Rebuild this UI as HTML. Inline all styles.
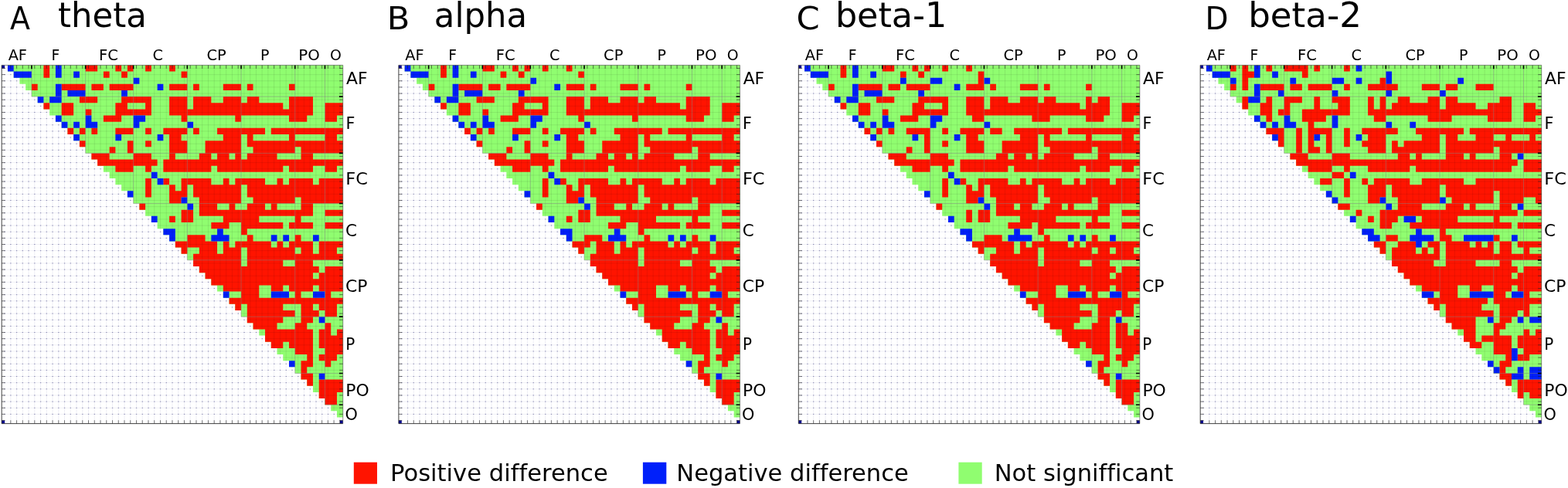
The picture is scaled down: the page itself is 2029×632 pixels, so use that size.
<!DOCTYPE html>
<html lang="en">
<head>
<meta charset="utf-8">
<title>Connectivity difference matrices</title>
<style>
html,body{margin:0;padding:0;background:#fff;}
body{width:2029px;height:632px;overflow:hidden;}
svg{display:block;}
text{font-family:'DejaVu Sans','Liberation Sans',sans-serif;fill:#000;font-variant-ligatures:none;}
.pl{font-size:40.0px;}
.pt{font-size:44.6px;}
.tl{font-size:19.2px;}
.rl{font-size:21.4px;}
.lg{font-size:29.5px;}
.wv,.wh{fill:none;stroke:#5a5a96;stroke-opacity:0.10;stroke-width:0.9;}
.wd{fill:none;stroke:#6a6a9c;stroke-opacity:0.75;stroke-width:1;}
.gv,.gh{fill:none;stroke:#000;stroke-opacity:0.09;stroke-width:0.9;}
.gb{fill:none;stroke:#808080;stroke-opacity:0.55;stroke-width:0.9;}
.tk{fill:none;stroke:#222;stroke-width:0.8;stroke-opacity:0.75;}
.tb{fill:none;stroke:#000;stroke-width:1.6;}
.ax{fill:none;stroke:#2a2a2a;stroke-width:0.9;}
.ax2{fill:none;stroke:#333;stroke-width:0.7;stroke-opacity:0.8;}
</style>
</head>
<body>
<svg width="2029" height="632" viewBox="0 0 2029 632">
<rect x="0" y="0" width="2029" height="632" fill="#ffffff"/>
<g id="panelA">
<path d="M13.82 84.4V548.61M21.57 84.4V548.61M29.31 84.4V548.61M37.06 84.4V548.61M44.8 84.4V548.61M52.55 84.4V548.61M60.3 84.4V548.61M68.04 84.4V548.61M75.79 84.4V548.61M83.53 84.4V548.61M91.28 84.4V548.61M99.03 84.4V548.61M106.77 84.4V548.61M114.52 84.4V548.61M122.26 84.4V548.61M130.01 84.4V548.61M137.75 84.4V548.61M145.5 84.4V548.61M153.25 84.4V548.61M160.99 84.4V548.61M168.74 84.4V548.61M176.48 84.4V548.61M184.23 84.4V548.61M191.98 84.4V548.61M199.72 84.4V548.61M207.47 84.4V548.61M215.22 84.4V548.61M222.96 84.4V548.61M230.71 84.4V548.61M238.45 84.4V548.61M246.2 84.4V548.61M253.94 84.4V548.61M261.69 84.4V548.61M269.44 84.4V548.61M277.18 84.4V548.61M284.93 84.4V548.61M292.68 84.4V548.61M300.42 84.4V548.61M308.17 84.4V548.61M315.91 84.4V548.61M323.66 84.4V548.61M331.41 84.4V548.61M339.15 84.4V548.61M346.9 84.4V548.61M354.64 84.4V548.61M362.39 84.4V548.61M370.13 84.4V548.61M377.88 84.4V548.61M385.63 84.4V548.61M393.37 84.4V548.61M401.12 84.4V548.61M408.87 84.4V548.61M416.61 84.4V548.61M424.36 84.4V548.61M432.1 84.4V548.61M439.85 84.4V548.61" class="wv"/>
<path d="M2.2 88.47H443.72M2.2 96.62H443.72M2.2 104.76H443.72M2.2 112.9H443.72M2.2 121.05H443.72M2.2 129.19H443.72M2.2 137.34H443.72M2.2 145.48H443.72M2.2 153.62H443.72M2.2 161.77H443.72M2.2 169.91H443.72M2.2 178.06H443.72M2.2 186.2H443.72M2.2 194.34H443.72M2.2 202.49H443.72M2.2 210.63H443.72M2.2 218.78H443.72M2.2 226.92H443.72M2.2 235.06H443.72M2.2 243.21H443.72M2.2 251.35H443.72M2.2 259.5H443.72M2.2 267.64H443.72M2.2 275.78H443.72M2.2 283.93H443.72M2.2 292.07H443.72M2.2 300.22H443.72M2.2 308.36H443.72M2.2 316.5H443.72M2.2 324.65H443.72M2.2 332.79H443.72M2.2 340.94H443.72M2.2 349.08H443.72M2.2 357.22H443.72M2.2 365.37H443.72M2.2 373.51H443.72M2.2 381.66H443.72M2.2 389.8H443.72M2.2 397.94H443.72M2.2 406.09H443.72M2.2 414.23H443.72M2.2 422.38H443.72M2.2 430.52H443.72M2.2 438.66H443.72M2.2 446.81H443.72M2.2 454.95H443.72M2.2 463.1H443.72M2.2 471.24H443.72M2.2 479.38H443.72M2.2 487.53H443.72M2.2 495.67H443.72M2.2 503.82H443.72M2.2 511.96H443.72M2.2 520.1H443.72M2.2 528.25H443.72M2.2 536.39H443.72" class="wh"/>
<path d="M2.2 88.47H443.72M2.2 96.62H443.72M2.2 104.76H443.72M2.2 112.9H443.72M2.2 121.05H443.72M2.2 129.19H443.72M2.2 137.34H443.72M2.2 145.48H443.72M2.2 153.62H443.72M2.2 161.77H443.72M2.2 169.91H443.72M2.2 178.06H443.72M2.2 186.2H443.72M2.2 194.34H443.72M2.2 202.49H443.72M2.2 210.63H443.72M2.2 218.78H443.72M2.2 226.92H443.72M2.2 235.06H443.72M2.2 243.21H443.72M2.2 251.35H443.72M2.2 259.5H443.72M2.2 267.64H443.72M2.2 275.78H443.72M2.2 283.93H443.72M2.2 292.07H443.72M2.2 300.22H443.72M2.2 308.36H443.72M2.2 316.5H443.72M2.2 324.65H443.72M2.2 332.79H443.72M2.2 340.94H443.72M2.2 349.08H443.72M2.2 357.22H443.72M2.2 365.37H443.72M2.2 373.51H443.72M2.2 381.66H443.72M2.2 389.8H443.72M2.2 397.94H443.72M2.2 406.09H443.72M2.2 414.23H443.72M2.2 422.38H443.72M2.2 430.52H443.72M2.2 438.66H443.72M2.2 446.81H443.72M2.2 454.95H443.72M2.2 463.1H443.72M2.2 471.24H443.72M2.2 479.38H443.72M2.2 487.53H443.72M2.2 495.67H443.72M2.2 503.82H443.72M2.2 511.96H443.72M2.2 520.1H443.72M2.2 528.25H443.72M2.2 536.39H443.72" class="wd" stroke-dasharray="1.3 6.45" stroke-dashoffset="-10.97"/>
<clipPath id="clipA"><path d="M9.95 84.4H443.72V92.54H9.95ZM17.69 92.54H443.72V100.69H17.69ZM25.44 100.69H443.72V108.83H25.44ZM33.18 108.83H443.72V116.98H33.18ZM40.93 116.98H443.72V125.12H40.93ZM48.68 125.12H443.72V133.26H48.68ZM56.42 133.26H443.72V141.41H56.42ZM64.17 141.41H443.72V149.55H64.17ZM71.91 149.55H443.72V157.7H71.91ZM79.66 157.7H443.72V165.84H79.66ZM87.41 165.84H443.72V173.98H87.41ZM95.15 173.98H443.72V182.13H95.15ZM102.9 182.13H443.72V190.27H102.9ZM110.64 190.27H443.72V198.42H110.64ZM118.39 198.42H443.72V206.56H118.39ZM126.14 206.56H443.72V214.7H126.14ZM133.88 214.7H443.72V222.85H133.88ZM141.63 222.85H443.72V230.99H141.63ZM149.37 230.99H443.72V239.14H149.37ZM157.12 239.14H443.72V247.28H157.12ZM164.87 247.28H443.72V255.42H164.87ZM172.61 255.42H443.72V263.57H172.61ZM180.36 263.57H443.72V271.71H180.36ZM188.1 271.71H443.72V279.86H188.1ZM195.85 279.86H443.72V288H195.85ZM203.6 288H443.72V296.14H203.6ZM211.34 296.14H443.72V304.29H211.34ZM219.09 304.29H443.72V312.43H219.09ZM226.83 312.43H443.72V320.58H226.83ZM234.58 320.58H443.72V328.72H234.58ZM242.33 328.72H443.72V336.86H242.33ZM250.07 336.86H443.72V345.01H250.07ZM257.82 345.01H443.72V353.15H257.82ZM265.56 353.15H443.72V361.3H265.56ZM273.31 361.3H443.72V369.44H273.31ZM281.06 369.44H443.72V377.58H281.06ZM288.8 377.58H443.72V385.73H288.8ZM296.55 385.73H443.72V393.87H296.55ZM304.29 393.87H443.72V402.02H304.29ZM312.04 402.02H443.72V410.16H312.04ZM319.79 410.16H443.72V418.3H319.79ZM327.53 418.3H443.72V426.45H327.53ZM335.28 426.45H443.72V434.59H335.28ZM343.02 434.59H443.72V442.74H343.02ZM350.77 442.74H443.72V450.88H350.77ZM358.52 450.88H443.72V459.02H358.52ZM366.26 459.02H443.72V467.17H366.26ZM374.01 467.17H443.72V475.31H374.01ZM381.75 475.31H443.72V483.46H381.75ZM389.5 483.46H443.72V491.6H389.5ZM397.25 491.6H443.72V499.74H397.25ZM404.99 499.74H443.72V507.89H404.99ZM412.74 507.89H443.72V516.03H412.74ZM420.48 516.03H443.72V524.18H420.48ZM428.23 524.18H443.72V532.32H428.23ZM435.98 532.32H443.72V540.46H435.98Z"/></clipPath>
<path d="M9.95 84.4H443.72V92.54H9.95ZM17.69 92.54H443.72V100.69H17.69ZM25.44 100.69H443.72V108.83H25.44ZM33.18 108.83H443.72V116.98H33.18ZM40.93 116.98H443.72V125.12H40.93ZM48.68 125.12H443.72V133.26H48.68ZM56.42 133.26H443.72V141.41H56.42ZM64.17 141.41H443.72V149.55H64.17ZM71.91 149.55H443.72V157.7H71.91ZM79.66 157.7H443.72V165.84H79.66ZM87.41 165.84H443.72V173.98H87.41ZM95.15 173.98H443.72V182.13H95.15ZM102.9 182.13H443.72V190.27H102.9ZM110.64 190.27H443.72V198.42H110.64ZM118.39 198.42H443.72V206.56H118.39ZM126.14 206.56H443.72V214.7H126.14ZM133.88 214.7H443.72V222.85H133.88ZM141.63 222.85H443.72V230.99H141.63ZM149.37 230.99H443.72V239.14H149.37ZM157.12 239.14H443.72V247.28H157.12ZM164.87 247.28H443.72V255.42H164.87ZM172.61 255.42H443.72V263.57H172.61ZM180.36 263.57H443.72V271.71H180.36ZM188.1 271.71H443.72V279.86H188.1ZM195.85 279.86H443.72V288H195.85ZM203.6 288H443.72V296.14H203.6ZM211.34 296.14H443.72V304.29H211.34ZM219.09 304.29H443.72V312.43H219.09ZM226.83 312.43H443.72V320.58H226.83ZM234.58 320.58H443.72V328.72H234.58ZM242.33 328.72H443.72V336.86H242.33ZM250.07 336.86H443.72V345.01H250.07ZM257.82 345.01H443.72V353.15H257.82ZM265.56 353.15H443.72V361.3H265.56ZM273.31 361.3H443.72V369.44H273.31ZM281.06 369.44H443.72V377.58H281.06ZM288.8 377.58H443.72V385.73H288.8ZM296.55 385.73H443.72V393.87H296.55ZM304.29 393.87H443.72V402.02H304.29ZM312.04 402.02H443.72V410.16H312.04ZM319.79 410.16H443.72V418.3H319.79ZM327.53 418.3H443.72V426.45H327.53ZM335.28 426.45H443.72V434.59H335.28ZM343.02 434.59H443.72V442.74H343.02ZM350.77 442.74H443.72V450.88H350.77ZM358.52 450.88H443.72V459.02H358.52ZM366.26 459.02H443.72V467.17H366.26ZM374.01 467.17H443.72V475.31H374.01ZM381.75 475.31H443.72V483.46H381.75ZM389.5 483.46H443.72V491.6H389.5ZM397.25 491.6H443.72V499.74H397.25ZM404.99 499.74H443.72V507.89H404.99ZM412.74 507.89H443.72V516.03H412.74ZM420.48 516.03H443.72V524.18H420.48ZM428.23 524.18H443.72V532.32H428.23ZM435.98 532.32H443.72V540.46H435.98Z" fill="#90fd70"/>
<path d="M56.42 84.4H64.17V92.54H56.42ZM110.64 84.4H126.14V92.54H110.64ZM149.37 84.4H157.12V92.54H149.37ZM164.87 84.4H172.61V92.54H164.87ZM188.1 84.4H195.85V92.54H188.1ZM219.09 84.4H226.83V92.54H219.09ZM56.42 92.54H64.17V100.69H56.42ZM133.88 92.54H141.63V100.69H133.88ZM157.12 92.54H164.87V100.69H157.12ZM234.58 92.54H242.33V100.69H234.58ZM40.93 108.83H48.68V116.98H40.93ZM79.66 108.83H110.64V116.98H79.66ZM118.39 108.83H133.88V116.98H118.39ZM141.63 108.83H172.61V116.98H141.63ZM219.09 108.83H242.33V116.98H219.09ZM250.07 108.83H257.82V116.98H250.07ZM288.8 108.83H312.04V116.98H288.8ZM319.79 108.83H327.53V116.98H319.79ZM374.01 108.83H381.75V116.98H374.01ZM102.9 125.12H126.14V133.26H102.9ZM157.12 125.12H195.85V133.26H157.12ZM219.09 125.12H242.33V133.26H219.09ZM250.07 125.12H273.31V133.26H250.07ZM288.8 125.12H312.04V133.26H288.8ZM319.79 125.12H335.28V133.26H319.79ZM374.01 125.12H404.99V133.26H374.01ZM56.42 133.26H64.17V141.41H56.42ZM79.66 133.26H95.15V141.41H79.66ZM149.37 133.26H164.87V141.41H149.37ZM188.1 133.26H195.85V141.41H188.1ZM219.09 133.26H242.33V141.41H219.09ZM250.07 133.26H366.26V141.41H250.07ZM374.01 133.26H404.99V141.41H374.01ZM420.48 133.26H443.72V141.41H420.48ZM79.66 141.41H95.15V149.55H79.66ZM110.64 141.41H118.39V149.55H110.64ZM149.37 141.41H195.85V149.55H149.37ZM219.09 141.41H404.99V149.55H219.09ZM420.48 141.41H443.72V149.55H420.48ZM133.88 149.55H157.12V157.7H133.88ZM234.58 149.55H242.33V157.7H234.58ZM304.29 149.55H312.04V157.7H304.29ZM374.01 149.55H397.25V157.7H374.01ZM420.48 149.55H435.98V157.7H420.48ZM87.41 165.84H95.15V173.98H87.41ZM102.9 165.84H110.64V173.98H102.9ZM118.39 165.84H126.14V173.98H118.39ZM149.37 165.84H172.61V173.98H149.37ZM188.1 165.84H195.85V173.98H188.1ZM211.34 165.84H242.33V173.98H211.34ZM250.07 165.84H257.82V173.98H250.07ZM281.06 165.84H343.02V173.98H281.06ZM350.77 165.84H443.72V173.98H350.77ZM219.09 173.98H234.58V182.13H219.09ZM288.8 173.98H312.04V182.13H288.8ZM319.79 173.98H327.53V182.13H319.79ZM374.01 173.98H381.75V182.13H374.01ZM420.48 173.98H435.98V182.13H420.48ZM102.9 182.13H110.64V190.27H102.9ZM164.87 182.13H172.61V190.27H164.87ZM188.1 182.13H195.85V190.27H188.1ZM219.09 182.13H242.33V190.27H219.09ZM265.56 182.13H312.04V190.27H265.56ZM319.79 182.13H443.72V190.27H319.79ZM141.63 190.27H149.37V198.42H141.63ZM164.87 190.27H172.61V198.42H164.87ZM219.09 190.27H242.33V198.42H219.09ZM265.56 190.27H312.04V198.42H265.56ZM327.53 190.27H381.75V198.42H327.53ZM389.5 190.27H443.72V198.42H389.5ZM118.39 198.42H141.63V206.56H118.39ZM172.61 198.42H195.85V206.56H172.61ZM219.09 198.42H226.83V206.56H219.09ZM257.82 198.42H273.31V206.56H257.82ZM281.06 198.42H296.55V206.56H281.06ZM304.29 198.42H312.04V206.56H304.29ZM319.79 198.42H358.52V206.56H319.79ZM389.5 198.42H404.99V206.56H389.5ZM126.14 206.56H203.6V214.7H126.14ZM211.34 206.56H443.72V214.7H211.34ZM149.37 214.7H172.61V222.85H149.37ZM188.1 214.7H195.85V222.85H188.1ZM211.34 214.7H273.31V222.85H211.34ZM281.06 214.7H366.26V222.85H281.06ZM374.01 214.7H404.99V222.85H374.01ZM420.48 214.7H435.98V222.85H420.48ZM188.1 230.99H195.85V239.14H188.1ZM211.34 230.99H219.09V239.14H211.34ZM234.58 230.99H273.31V239.14H234.58ZM288.8 230.99H296.55V239.14H288.8ZM304.29 230.99H343.02V239.14H304.29ZM358.52 230.99H366.26V239.14H358.52ZM374.01 230.99H404.99V239.14H374.01ZM412.74 230.99H443.72V239.14H412.74ZM188.1 239.14H195.85V247.28H188.1ZM219.09 239.14H226.83V247.28H219.09ZM234.58 239.14H242.33V247.28H234.58ZM250.07 239.14H312.04V247.28H250.07ZM319.79 239.14H443.72V247.28H319.79ZM188.1 247.28H195.85V255.42H188.1ZM219.09 247.28H242.33V255.42H219.09ZM250.07 247.28H312.04V255.42H250.07ZM319.79 247.28H443.72V255.42H319.79ZM219.09 255.42H234.58V263.57H219.09ZM257.82 255.42H312.04V263.57H257.82ZM327.53 255.42H381.75V263.57H327.53ZM389.5 255.42H443.72V263.57H389.5ZM180.36 263.57H188.1V271.71H180.36ZM257.82 263.57H281.06V271.71H257.82ZM296.55 263.57H304.29V271.71H296.55ZM319.79 263.57H343.02V271.71H319.79ZM350.77 263.57H358.52V271.71H350.77ZM389.5 263.57H404.99V271.71H389.5ZM234.58 271.71H250.07V279.86H234.58ZM257.82 271.71H404.99V279.86H257.82ZM420.48 271.71H443.72V279.86H420.48ZM219.09 279.86H226.83V288H219.09ZM234.58 279.86H250.07V288H234.58ZM288.8 279.86H335.28V288H288.8ZM381.75 279.86H389.5V288H381.75ZM273.31 288H296.55V296.14H273.31ZM312.04 288H366.26V296.14H312.04ZM374.01 288H404.99V296.14H374.01ZM420.48 288H443.72V296.14H420.48ZM312.04 296.14H319.79V304.29H312.04ZM242.33 304.29H265.56V312.43H242.33ZM319.79 304.29H327.53V312.43H319.79ZM381.75 304.29H389.5V312.43H381.75ZM226.83 312.43H281.06V320.58H226.83ZM288.8 312.43H296.55V320.58H288.8ZM304.29 312.43H350.77V320.58H304.29ZM358.52 312.43H366.26V320.58H358.52ZM374.01 312.43H404.99V320.58H374.01ZM412.74 312.43H443.72V320.58H412.74ZM234.58 320.58H242.33V328.72H234.58ZM257.82 320.58H281.06V328.72H257.82ZM288.8 320.58H312.04V328.72H288.8ZM319.79 320.58H381.75V328.72H319.79ZM389.5 320.58H404.99V328.72H389.5ZM412.74 320.58H435.98V328.72H412.74ZM250.07 328.72H312.04V336.86H250.07ZM319.79 328.72H443.72V336.86H319.79ZM250.07 336.86H312.04V345.01H250.07ZM319.79 336.86H366.26V345.01H319.79ZM381.75 336.86H404.99V345.01H381.75ZM257.82 345.01H412.74V353.15H257.82ZM420.48 345.01H443.72V353.15H420.48ZM265.56 353.15H404.99V361.3H265.56ZM412.74 353.15H443.72V361.3H412.74ZM273.31 361.3H443.72V369.44H273.31ZM288.8 369.44H335.28V377.58H288.8ZM350.77 369.44H366.26V377.58H350.77ZM374.01 369.44H404.99V377.58H374.01ZM412.74 369.44H443.72V377.58H412.74ZM312.04 377.58H335.28V385.73H312.04ZM381.75 377.58H389.5V385.73H381.75ZM420.48 377.58H428.23V385.73H420.48ZM296.55 385.73H443.72V393.87H296.55ZM304.29 393.87H312.04V402.02H304.29ZM319.79 393.87H366.26V402.02H319.79ZM389.5 393.87H404.99V402.02H389.5ZM412.74 393.87H435.98V402.02H412.74ZM319.79 402.02H381.75V410.16H319.79ZM389.5 402.02H412.74V410.16H389.5ZM420.48 402.02H435.98V410.16H420.48ZM319.79 410.16H366.26V418.3H319.79ZM389.5 410.16H404.99V418.3H389.5ZM327.53 418.3H358.52V426.45H327.53ZM381.75 418.3H397.25V426.45H381.75ZM420.48 418.3H428.23V426.45H420.48ZM343.02 426.45H404.99V434.59H343.02ZM412.74 426.45H428.23V434.59H412.74ZM435.98 426.45H443.72V434.59H435.98ZM343.02 434.59H404.99V442.74H343.02ZM412.74 434.59H443.72V442.74H412.74ZM350.77 442.74H366.26V450.88H350.77ZM374.01 442.74H404.99V450.88H374.01ZM412.74 442.74H443.72V450.88H412.74ZM381.75 450.88H404.99V459.02H381.75ZM420.48 450.88H443.72V459.02H420.48ZM397.25 459.02H404.99V467.17H397.25ZM412.74 459.02H435.98V467.17H412.74ZM389.5 467.17H404.99V475.31H389.5ZM420.48 467.17H428.23V475.31H420.48ZM389.5 475.31H397.25V483.46H389.5ZM389.5 483.46H404.99V491.6H389.5ZM397.25 491.6H404.99V499.74H397.25ZM412.74 491.6H443.72V499.74H412.74ZM412.74 499.74H443.72V507.89H412.74ZM412.74 507.89H435.98V516.03H412.74ZM420.48 516.03H435.98V524.18H420.48Z" fill="#ff1400"/>
<path d="M9.95 84.4H17.69V92.54H9.95ZM71.91 84.4H79.66V92.54H71.91ZM17.69 92.54H40.93V100.69H17.69ZM71.91 92.54H79.66V100.69H71.91ZM95.15 92.54H102.9V100.69H95.15ZM172.61 100.69H180.36V108.83H172.61ZM71.91 108.83H79.66V116.98H71.91ZM203.6 108.83H211.34V116.98H203.6ZM71.91 116.98H79.66V125.12H71.91ZM87.41 116.98H110.64V125.12H87.41ZM157.12 116.98H164.87V125.12H157.12ZM48.68 125.12H56.42V133.26H48.68ZM64.17 125.12H79.66V133.26H64.17ZM71.91 149.55H79.66V157.7H71.91ZM110.64 149.55H118.39V157.7H110.64ZM172.61 149.55H188.1V157.7H172.61ZM79.66 157.7H87.41V165.84H79.66ZM95.15 157.7H102.9V165.84H95.15ZM110.64 157.7H126.14V165.84H110.64ZM172.61 157.7H180.36V165.84H172.61ZM242.33 157.7H250.07V165.84H242.33ZM95.15 173.98H102.9V182.13H95.15ZM149.37 173.98H157.12V182.13H149.37ZM203.6 173.98H211.34V182.13H203.6ZM195.85 222.85H203.6V230.99H195.85ZM203.6 230.99H211.34V239.14H203.6ZM164.87 247.28H172.61V255.42H164.87ZM234.58 255.42H242.33V263.57H234.58ZM242.33 263.57H250.07V271.71H242.33ZM195.85 279.86H203.6V288H195.85ZM211.34 296.14H226.83V304.29H211.34ZM281.06 296.14H288.8V304.29H281.06ZM219.09 304.29H226.83V312.43H219.09ZM273.31 304.29H296.55V312.43H273.31ZM350.77 304.29H358.52V312.43H350.77ZM366.26 304.29H374.01V312.43H366.26ZM404.99 304.29H412.74V312.43H404.99ZM288.8 377.58H296.55V385.73H288.8ZM350.77 377.58H374.01V385.73H350.77ZM404.99 377.58H420.48V385.73H404.99ZM412.74 410.16H420.48V418.3H412.74ZM374.01 467.17H381.75V475.31H374.01ZM412.74 483.46H420.48V491.6H412.74Z" fill="#0020fa"/>
<path d="M2.2 84.4h3.87v4.07h-3.87ZM2.2 544.54h3.87v4.07h-3.87ZM439.85 544.54h3.87v4.07h-3.87Z" fill="#00008f"/>
<g clip-path="url(#clipA)"><path d="M13.82 84.4V548.61M21.57 84.4V548.61M29.31 84.4V548.61M37.06 84.4V548.61M44.8 84.4V548.61M52.55 84.4V548.61M60.3 84.4V548.61M68.04 84.4V548.61M75.79 84.4V548.61M83.53 84.4V548.61M91.28 84.4V548.61M99.03 84.4V548.61M106.77 84.4V548.61M114.52 84.4V548.61M122.26 84.4V548.61M130.01 84.4V548.61M137.75 84.4V548.61M145.5 84.4V548.61M153.25 84.4V548.61M160.99 84.4V548.61M168.74 84.4V548.61M176.48 84.4V548.61M184.23 84.4V548.61M191.98 84.4V548.61M199.72 84.4V548.61M207.47 84.4V548.61M215.22 84.4V548.61M222.96 84.4V548.61M230.71 84.4V548.61M238.45 84.4V548.61M246.2 84.4V548.61M253.94 84.4V548.61M261.69 84.4V548.61M269.44 84.4V548.61M277.18 84.4V548.61M284.93 84.4V548.61M292.68 84.4V548.61M300.42 84.4V548.61M308.17 84.4V548.61M315.91 84.4V548.61M323.66 84.4V548.61M331.41 84.4V548.61M339.15 84.4V548.61M346.9 84.4V548.61M354.64 84.4V548.61M362.39 84.4V548.61M370.13 84.4V548.61M377.88 84.4V548.61M385.63 84.4V548.61M393.37 84.4V548.61M401.12 84.4V548.61M408.87 84.4V548.61M416.61 84.4V548.61M424.36 84.4V548.61M432.1 84.4V548.61M439.85 84.4V548.61" class="gv"/><path d="M2.2 88.47H443.72M2.2 96.62H443.72M2.2 104.76H443.72M2.2 112.9H443.72M2.2 121.05H443.72M2.2 129.19H443.72M2.2 137.34H443.72M2.2 145.48H443.72M2.2 153.62H443.72M2.2 161.77H443.72M2.2 169.91H443.72M2.2 178.06H443.72M2.2 186.2H443.72M2.2 194.34H443.72M2.2 202.49H443.72M2.2 210.63H443.72M2.2 218.78H443.72M2.2 226.92H443.72M2.2 235.06H443.72M2.2 243.21H443.72M2.2 251.35H443.72M2.2 259.5H443.72M2.2 267.64H443.72M2.2 275.78H443.72M2.2 283.93H443.72M2.2 292.07H443.72M2.2 300.22H443.72M2.2 308.36H443.72M2.2 316.5H443.72M2.2 324.65H443.72M2.2 332.79H443.72M2.2 340.94H443.72M2.2 349.08H443.72M2.2 357.22H443.72M2.2 365.37H443.72M2.2 373.51H443.72M2.2 381.66H443.72M2.2 389.8H443.72M2.2 397.94H443.72M2.2 406.09H443.72M2.2 414.23H443.72M2.2 422.38H443.72M2.2 430.52H443.72M2.2 438.66H443.72M2.2 446.81H443.72M2.2 454.95H443.72M2.2 463.1H443.72M2.2 471.24H443.72M2.2 479.38H443.72M2.2 487.53H443.72M2.2 495.67H443.72M2.2 503.82H443.72M2.2 511.96H443.72M2.2 520.1H443.72M2.2 528.25H443.72M2.2 536.39H443.72" class="gh"/></g>
<path d="M40.93 84.4V125.12H443.72M110.64 84.4V198.42H443.72M172.61 84.4V263.57H443.72M242.33 84.4V336.86H443.72M312.04 84.4V410.16H443.72M381.75 84.4V483.46H443.72M420.48 84.4V524.18H443.72" class="gb"/>
<path d="M13.82 84.4v4.4M13.82 548.61v-4.4M21.57 84.4v4.4M21.57 548.61v-4.4M29.31 84.4v4.4M29.31 548.61v-4.4M37.06 84.4v4.4M37.06 548.61v-4.4M44.8 84.4v4.4M44.8 548.61v-4.4M52.55 84.4v4.4M52.55 548.61v-4.4M60.3 84.4v4.4M60.3 548.61v-4.4M68.04 84.4v4.4M68.04 548.61v-4.4M75.79 84.4v4.4M75.79 548.61v-4.4M83.53 84.4v4.4M83.53 548.61v-4.4M91.28 84.4v4.4M91.28 548.61v-4.4M99.03 84.4v4.4M99.03 548.61v-4.4M106.77 84.4v4.4M106.77 548.61v-4.4M114.52 84.4v4.4M114.52 548.61v-4.4M122.26 84.4v4.4M122.26 548.61v-4.4M130.01 84.4v4.4M130.01 548.61v-4.4M137.75 84.4v4.4M137.75 548.61v-4.4M145.5 84.4v4.4M145.5 548.61v-4.4M153.25 84.4v4.4M153.25 548.61v-4.4M160.99 84.4v4.4M160.99 548.61v-4.4M168.74 84.4v4.4M168.74 548.61v-4.4M176.48 84.4v4.4M176.48 548.61v-4.4M184.23 84.4v4.4M184.23 548.61v-4.4M191.98 84.4v4.4M191.98 548.61v-4.4M199.72 84.4v4.4M199.72 548.61v-4.4M207.47 84.4v4.4M207.47 548.61v-4.4M215.22 84.4v4.4M215.22 548.61v-4.4M222.96 84.4v4.4M222.96 548.61v-4.4M230.71 84.4v4.4M230.71 548.61v-4.4M238.45 84.4v4.4M238.45 548.61v-4.4M246.2 84.4v4.4M246.2 548.61v-4.4M253.94 84.4v4.4M253.94 548.61v-4.4M261.69 84.4v4.4M261.69 548.61v-4.4M269.44 84.4v4.4M269.44 548.61v-4.4M277.18 84.4v4.4M277.18 548.61v-4.4M284.93 84.4v4.4M284.93 548.61v-4.4M292.68 84.4v4.4M292.68 548.61v-4.4M300.42 84.4v4.4M300.42 548.61v-4.4M308.17 84.4v4.4M308.17 548.61v-4.4M315.91 84.4v4.4M315.91 548.61v-4.4M323.66 84.4v4.4M323.66 548.61v-4.4M331.41 84.4v4.4M331.41 548.61v-4.4M339.15 84.4v4.4M339.15 548.61v-4.4M346.9 84.4v4.4M346.9 548.61v-4.4M354.64 84.4v4.4M354.64 548.61v-4.4M362.39 84.4v4.4M362.39 548.61v-4.4M370.13 84.4v4.4M370.13 548.61v-4.4M377.88 84.4v4.4M377.88 548.61v-4.4M385.63 84.4v4.4M385.63 548.61v-4.4M393.37 84.4v4.4M393.37 548.61v-4.4M401.12 84.4v4.4M401.12 548.61v-4.4M408.87 84.4v4.4M408.87 548.61v-4.4M416.61 84.4v4.4M416.61 548.61v-4.4M424.36 84.4v4.4M424.36 548.61v-4.4M432.1 84.4v4.4M432.1 548.61v-4.4M439.85 84.4v4.4M439.85 548.61v-4.4M2.2 88.47h4.4M443.72 88.47h-4.4M2.2 96.62h4.4M443.72 96.62h-4.4M2.2 104.76h4.4M443.72 104.76h-4.4M2.2 112.9h4.4M443.72 112.9h-4.4M2.2 121.05h4.4M443.72 121.05h-4.4M2.2 129.19h4.4M443.72 129.19h-4.4M2.2 137.34h4.4M443.72 137.34h-4.4M2.2 145.48h4.4M443.72 145.48h-4.4M2.2 153.62h4.4M443.72 153.62h-4.4M2.2 161.77h4.4M443.72 161.77h-4.4M2.2 169.91h4.4M443.72 169.91h-4.4M2.2 178.06h4.4M443.72 178.06h-4.4M2.2 186.2h4.4M443.72 186.2h-4.4M2.2 194.34h4.4M443.72 194.34h-4.4M2.2 202.49h4.4M443.72 202.49h-4.4M2.2 210.63h4.4M443.72 210.63h-4.4M2.2 218.78h4.4M443.72 218.78h-4.4M2.2 226.92h4.4M443.72 226.92h-4.4M2.2 235.06h4.4M443.72 235.06h-4.4M2.2 243.21h4.4M443.72 243.21h-4.4M2.2 251.35h4.4M443.72 251.35h-4.4M2.2 259.5h4.4M443.72 259.5h-4.4M2.2 267.64h4.4M443.72 267.64h-4.4M2.2 275.78h4.4M443.72 275.78h-4.4M2.2 283.93h4.4M443.72 283.93h-4.4M2.2 292.07h4.4M443.72 292.07h-4.4M2.2 300.22h4.4M443.72 300.22h-4.4M2.2 308.36h4.4M443.72 308.36h-4.4M2.2 316.5h4.4M443.72 316.5h-4.4M2.2 324.65h4.4M443.72 324.65h-4.4M2.2 332.79h4.4M443.72 332.79h-4.4M2.2 340.94h4.4M443.72 340.94h-4.4M2.2 349.08h4.4M443.72 349.08h-4.4M2.2 357.22h4.4M443.72 357.22h-4.4M2.2 365.37h4.4M443.72 365.37h-4.4M2.2 373.51h4.4M443.72 373.51h-4.4M2.2 381.66h4.4M443.72 381.66h-4.4M2.2 389.8h4.4M443.72 389.8h-4.4M2.2 397.94h4.4M443.72 397.94h-4.4M2.2 406.09h4.4M443.72 406.09h-4.4M2.2 414.23h4.4M443.72 414.23h-4.4M2.2 422.38h4.4M443.72 422.38h-4.4M2.2 430.52h4.4M443.72 430.52h-4.4M2.2 438.66h4.4M443.72 438.66h-4.4M2.2 446.81h4.4M443.72 446.81h-4.4M2.2 454.95h4.4M443.72 454.95h-4.4M2.2 463.1h4.4M443.72 463.1h-4.4M2.2 471.24h4.4M443.72 471.24h-4.4M2.2 479.38h4.4M443.72 479.38h-4.4M2.2 487.53h4.4M443.72 487.53h-4.4M2.2 495.67h4.4M443.72 495.67h-4.4M2.2 503.82h4.4M443.72 503.82h-4.4M2.2 511.96h4.4M443.72 511.96h-4.4M2.2 520.1h4.4M443.72 520.1h-4.4M2.2 528.25h4.4M443.72 528.25h-4.4M2.2 536.39h4.4M443.72 536.39h-4.4M2.2 544.54h4.4M443.72 544.54h-4.4" class="tk"/>
<path d="M40.93 84.4v4.8M443.72 125.12h-4.8M110.64 84.4v4.8M443.72 198.42h-4.8M172.61 84.4v4.8M443.72 263.57h-4.8M242.33 84.4v4.8M443.72 336.86h-4.8M312.04 84.4v4.8M443.72 410.16h-4.8M381.75 84.4v4.8M443.72 483.46h-4.8M420.48 84.4v4.8M443.72 524.18h-4.8" class="tb"/>
<path d="M2.2 84.4V548.61H443.72" class="ax"/>
<path d="M2.2 84.4H443.72V548.61" class="ax2"/>
<text class="pl" transform="translate(12.96 37.7) scale(0.9495 1)">A</text>
<text class="pt" transform="translate(74.98 35) scale(0.9738 1)">theta</text>
<text class="tl" transform="translate(10.65 77.5) scale(1.0066 1)">AF</text>
<text class="tl" transform="translate(66.55 77.5) scale(0.9750 1)">F</text>
<text class="tl" transform="translate(127.96 77.5) scale(1.0186 1)">FC</text>
<text class="tl" transform="translate(197.4 77.5) scale(1.0044 1)">C</text>
<text class="tl" transform="translate(267.39 77.5) scale(1.0108 1)">CP</text>
<text class="tl" transform="translate(336.92 77.5) scale(0.9889 1)">P</text>
<text class="tl" transform="translate(386.34 77.5) scale(1.0298 1)">PO</text>
<text class="tl" transform="translate(427.02 77.5) scale(0.9846 1)">O</text>
<text class="rl" transform="translate(447.97 109.2) scale(1.0196 1)">AF</text>
<text class="rl" transform="translate(447.39 167.1) scale(0.9667 1)">F</text>
<text class="rl" transform="translate(447.22 238.8) scale(1.0500 1)">FC</text>
<text class="rl" transform="translate(446.97 306.2) scale(1.0000 1)">C</text>
<text class="rl" transform="translate(446.95 377.9) scale(1.0214 1)">CP</text>
<text class="rl" transform="translate(447.25 452.6) scale(0.9300 1)">P</text>
<text class="rl" transform="translate(447.28 513.3) scale(1.0226 1)">PO</text>
<text class="rl" transform="translate(446.41 544) scale(0.9724 1)">O</text>
</g>
<g id="panelB">
<path d="M527.52 84.4V548.61M535.26 84.4V548.61M543.01 84.4V548.61M550.76 84.4V548.61M558.5 84.4V548.61M566.25 84.4V548.61M574 84.4V548.61M581.74 84.4V548.61M589.49 84.4V548.61M597.23 84.4V548.61M604.98 84.4V548.61M612.73 84.4V548.61M620.47 84.4V548.61M628.22 84.4V548.61M635.96 84.4V548.61M643.71 84.4V548.61M651.45 84.4V548.61M659.2 84.4V548.61M666.95 84.4V548.61M674.69 84.4V548.61M682.44 84.4V548.61M690.18 84.4V548.61M697.93 84.4V548.61M705.68 84.4V548.61M713.42 84.4V548.61M721.17 84.4V548.61M728.91 84.4V548.61M736.66 84.4V548.61M744.41 84.4V548.61M752.15 84.4V548.61M759.9 84.4V548.61M767.64 84.4V548.61M775.39 84.4V548.61M783.14 84.4V548.61M790.88 84.4V548.61M798.63 84.4V548.61M806.38 84.4V548.61M814.12 84.4V548.61M821.87 84.4V548.61M829.61 84.4V548.61M837.36 84.4V548.61M845.11 84.4V548.61M852.85 84.4V548.61M860.6 84.4V548.61M868.34 84.4V548.61M876.09 84.4V548.61M883.84 84.4V548.61M891.58 84.4V548.61M899.33 84.4V548.61M907.07 84.4V548.61M914.82 84.4V548.61M922.57 84.4V548.61M930.31 84.4V548.61M938.06 84.4V548.61M945.8 84.4V548.61M953.55 84.4V548.61" class="wv"/>
<path d="M515.9 88.47H957.42M515.9 96.62H957.42M515.9 104.76H957.42M515.9 112.9H957.42M515.9 121.05H957.42M515.9 129.19H957.42M515.9 137.34H957.42M515.9 145.48H957.42M515.9 153.62H957.42M515.9 161.77H957.42M515.9 169.91H957.42M515.9 178.06H957.42M515.9 186.2H957.42M515.9 194.34H957.42M515.9 202.49H957.42M515.9 210.63H957.42M515.9 218.78H957.42M515.9 226.92H957.42M515.9 235.06H957.42M515.9 243.21H957.42M515.9 251.35H957.42M515.9 259.5H957.42M515.9 267.64H957.42M515.9 275.78H957.42M515.9 283.93H957.42M515.9 292.07H957.42M515.9 300.22H957.42M515.9 308.36H957.42M515.9 316.5H957.42M515.9 324.65H957.42M515.9 332.79H957.42M515.9 340.94H957.42M515.9 349.08H957.42M515.9 357.22H957.42M515.9 365.37H957.42M515.9 373.51H957.42M515.9 381.66H957.42M515.9 389.8H957.42M515.9 397.94H957.42M515.9 406.09H957.42M515.9 414.23H957.42M515.9 422.38H957.42M515.9 430.52H957.42M515.9 438.66H957.42M515.9 446.81H957.42M515.9 454.95H957.42M515.9 463.1H957.42M515.9 471.24H957.42M515.9 479.38H957.42M515.9 487.53H957.42M515.9 495.67H957.42M515.9 503.82H957.42M515.9 511.96H957.42M515.9 520.1H957.42M515.9 528.25H957.42M515.9 536.39H957.42" class="wh"/>
<path d="M515.9 88.47H957.42M515.9 96.62H957.42M515.9 104.76H957.42M515.9 112.9H957.42M515.9 121.05H957.42M515.9 129.19H957.42M515.9 137.34H957.42M515.9 145.48H957.42M515.9 153.62H957.42M515.9 161.77H957.42M515.9 169.91H957.42M515.9 178.06H957.42M515.9 186.2H957.42M515.9 194.34H957.42M515.9 202.49H957.42M515.9 210.63H957.42M515.9 218.78H957.42M515.9 226.92H957.42M515.9 235.06H957.42M515.9 243.21H957.42M515.9 251.35H957.42M515.9 259.5H957.42M515.9 267.64H957.42M515.9 275.78H957.42M515.9 283.93H957.42M515.9 292.07H957.42M515.9 300.22H957.42M515.9 308.36H957.42M515.9 316.5H957.42M515.9 324.65H957.42M515.9 332.79H957.42M515.9 340.94H957.42M515.9 349.08H957.42M515.9 357.22H957.42M515.9 365.37H957.42M515.9 373.51H957.42M515.9 381.66H957.42M515.9 389.8H957.42M515.9 397.94H957.42M515.9 406.09H957.42M515.9 414.23H957.42M515.9 422.38H957.42M515.9 430.52H957.42M515.9 438.66H957.42M515.9 446.81H957.42M515.9 454.95H957.42M515.9 463.1H957.42M515.9 471.24H957.42M515.9 479.38H957.42M515.9 487.53H957.42M515.9 495.67H957.42M515.9 503.82H957.42M515.9 511.96H957.42M515.9 520.1H957.42M515.9 528.25H957.42M515.9 536.39H957.42" class="wd" stroke-dasharray="1.3 6.45" stroke-dashoffset="-10.97"/>
<clipPath id="clipB"><path d="M523.65 84.4H957.42V92.54H523.65ZM531.39 92.54H957.42V100.69H531.39ZM539.14 100.69H957.42V108.83H539.14ZM546.88 108.83H957.42V116.98H546.88ZM554.63 116.98H957.42V125.12H554.63ZM562.38 125.12H957.42V133.26H562.38ZM570.12 133.26H957.42V141.41H570.12ZM577.87 141.41H957.42V149.55H577.87ZM585.61 149.55H957.42V157.7H585.61ZM593.36 157.7H957.42V165.84H593.36ZM601.11 165.84H957.42V173.98H601.11ZM608.85 173.98H957.42V182.13H608.85ZM616.6 182.13H957.42V190.27H616.6ZM624.34 190.27H957.42V198.42H624.34ZM632.09 198.42H957.42V206.56H632.09ZM639.84 206.56H957.42V214.7H639.84ZM647.58 214.7H957.42V222.85H647.58ZM655.33 222.85H957.42V230.99H655.33ZM663.07 230.99H957.42V239.14H663.07ZM670.82 239.14H957.42V247.28H670.82ZM678.57 247.28H957.42V255.42H678.57ZM686.31 255.42H957.42V263.57H686.31ZM694.06 263.57H957.42V271.71H694.06ZM701.8 271.71H957.42V279.86H701.8ZM709.55 279.86H957.42V288H709.55ZM717.3 288H957.42V296.14H717.3ZM725.04 296.14H957.42V304.29H725.04ZM732.79 304.29H957.42V312.43H732.79ZM740.53 312.43H957.42V320.58H740.53ZM748.28 320.58H957.42V328.72H748.28ZM756.03 328.72H957.42V336.86H756.03ZM763.77 336.86H957.42V345.01H763.77ZM771.52 345.01H957.42V353.15H771.52ZM779.26 353.15H957.42V361.3H779.26ZM787.01 361.3H957.42V369.44H787.01ZM794.76 369.44H957.42V377.58H794.76ZM802.5 377.58H957.42V385.73H802.5ZM810.25 385.73H957.42V393.87H810.25ZM817.99 393.87H957.42V402.02H817.99ZM825.74 402.02H957.42V410.16H825.74ZM833.49 410.16H957.42V418.3H833.49ZM841.23 418.3H957.42V426.45H841.23ZM848.98 426.45H957.42V434.59H848.98ZM856.72 434.59H957.42V442.74H856.72ZM864.47 442.74H957.42V450.88H864.47ZM872.22 450.88H957.42V459.02H872.22ZM879.96 459.02H957.42V467.17H879.96ZM887.71 467.17H957.42V475.31H887.71ZM895.45 475.31H957.42V483.46H895.45ZM903.2 483.46H957.42V491.6H903.2ZM910.95 491.6H957.42V499.74H910.95ZM918.69 499.74H957.42V507.89H918.69ZM926.44 507.89H957.42V516.03H926.44ZM934.18 516.03H957.42V524.18H934.18ZM941.93 524.18H957.42V532.32H941.93ZM949.68 532.32H957.42V540.46H949.68Z"/></clipPath>
<path d="M523.65 84.4H957.42V92.54H523.65ZM531.39 92.54H957.42V100.69H531.39ZM539.14 100.69H957.42V108.83H539.14ZM546.88 108.83H957.42V116.98H546.88ZM554.63 116.98H957.42V125.12H554.63ZM562.38 125.12H957.42V133.26H562.38ZM570.12 133.26H957.42V141.41H570.12ZM577.87 141.41H957.42V149.55H577.87ZM585.61 149.55H957.42V157.7H585.61ZM593.36 157.7H957.42V165.84H593.36ZM601.11 165.84H957.42V173.98H601.11ZM608.85 173.98H957.42V182.13H608.85ZM616.6 182.13H957.42V190.27H616.6ZM624.34 190.27H957.42V198.42H624.34ZM632.09 198.42H957.42V206.56H632.09ZM639.84 206.56H957.42V214.7H639.84ZM647.58 214.7H957.42V222.85H647.58ZM655.33 222.85H957.42V230.99H655.33ZM663.07 230.99H957.42V239.14H663.07ZM670.82 239.14H957.42V247.28H670.82ZM678.57 247.28H957.42V255.42H678.57ZM686.31 255.42H957.42V263.57H686.31ZM694.06 263.57H957.42V271.71H694.06ZM701.8 271.71H957.42V279.86H701.8ZM709.55 279.86H957.42V288H709.55ZM717.3 288H957.42V296.14H717.3ZM725.04 296.14H957.42V304.29H725.04ZM732.79 304.29H957.42V312.43H732.79ZM740.53 312.43H957.42V320.58H740.53ZM748.28 320.58H957.42V328.72H748.28ZM756.03 328.72H957.42V336.86H756.03ZM763.77 336.86H957.42V345.01H763.77ZM771.52 345.01H957.42V353.15H771.52ZM779.26 353.15H957.42V361.3H779.26ZM787.01 361.3H957.42V369.44H787.01ZM794.76 369.44H957.42V377.58H794.76ZM802.5 377.58H957.42V385.73H802.5ZM810.25 385.73H957.42V393.87H810.25ZM817.99 393.87H957.42V402.02H817.99ZM825.74 402.02H957.42V410.16H825.74ZM833.49 410.16H957.42V418.3H833.49ZM841.23 418.3H957.42V426.45H841.23ZM848.98 426.45H957.42V434.59H848.98ZM856.72 434.59H957.42V442.74H856.72ZM864.47 442.74H957.42V450.88H864.47ZM872.22 450.88H957.42V459.02H872.22ZM879.96 459.02H957.42V467.17H879.96ZM887.71 467.17H957.42V475.31H887.71ZM895.45 475.31H957.42V483.46H895.45ZM903.2 483.46H957.42V491.6H903.2ZM910.95 491.6H957.42V499.74H910.95ZM918.69 499.74H957.42V507.89H918.69ZM926.44 507.89H957.42V516.03H926.44ZM934.18 516.03H957.42V524.18H934.18ZM941.93 524.18H957.42V532.32H941.93ZM949.68 532.32H957.42V540.46H949.68Z" fill="#90fd70"/>
<path d="M570.12 84.4H577.87V92.54H570.12ZM624.34 84.4H639.84V92.54H624.34ZM663.07 84.4H670.82V92.54H663.07ZM678.57 84.4H686.31V92.54H678.57ZM701.8 84.4H709.55V92.54H701.8ZM732.79 84.4H740.53V92.54H732.79ZM570.12 92.54H577.87V100.69H570.12ZM647.58 92.54H655.33V100.69H647.58ZM670.82 92.54H678.57V100.69H670.82ZM748.28 92.54H756.03V100.69H748.28ZM554.63 108.83H562.38V116.98H554.63ZM593.36 108.83H624.34V116.98H593.36ZM632.09 108.83H647.58V116.98H632.09ZM655.33 108.83H686.31V116.98H655.33ZM732.79 108.83H756.03V116.98H732.79ZM763.77 108.83H771.52V116.98H763.77ZM802.5 108.83H825.74V116.98H802.5ZM833.49 108.83H841.23V116.98H833.49ZM887.71 108.83H895.45V116.98H887.71ZM616.6 125.12H639.84V133.26H616.6ZM670.82 125.12H709.55V133.26H670.82ZM732.79 125.12H756.03V133.26H732.79ZM763.77 125.12H787.01V133.26H763.77ZM802.5 125.12H825.74V133.26H802.5ZM833.49 125.12H848.98V133.26H833.49ZM887.71 125.12H918.69V133.26H887.71ZM570.12 133.26H577.87V141.41H570.12ZM593.36 133.26H608.85V141.41H593.36ZM663.07 133.26H678.57V141.41H663.07ZM701.8 133.26H709.55V141.41H701.8ZM732.79 133.26H756.03V141.41H732.79ZM763.77 133.26H879.96V141.41H763.77ZM887.71 133.26H918.69V141.41H887.71ZM934.18 133.26H957.42V141.41H934.18ZM593.36 141.41H608.85V149.55H593.36ZM624.34 141.41H632.09V149.55H624.34ZM663.07 141.41H709.55V149.55H663.07ZM732.79 141.41H918.69V149.55H732.79ZM934.18 141.41H957.42V149.55H934.18ZM647.58 149.55H670.82V157.7H647.58ZM748.28 149.55H756.03V157.7H748.28ZM817.99 149.55H825.74V157.7H817.99ZM887.71 149.55H910.95V157.7H887.71ZM934.18 149.55H949.68V157.7H934.18ZM601.11 165.84H608.85V173.98H601.11ZM616.6 165.84H624.34V173.98H616.6ZM632.09 165.84H639.84V173.98H632.09ZM663.07 165.84H686.31V173.98H663.07ZM701.8 165.84H709.55V173.98H701.8ZM725.04 165.84H756.03V173.98H725.04ZM763.77 165.84H771.52V173.98H763.77ZM794.76 165.84H856.72V173.98H794.76ZM864.47 165.84H957.42V173.98H864.47ZM732.79 173.98H748.28V182.13H732.79ZM802.5 173.98H825.74V182.13H802.5ZM833.49 173.98H841.23V182.13H833.49ZM887.71 173.98H895.45V182.13H887.71ZM934.18 173.98H949.68V182.13H934.18ZM616.6 182.13H624.34V190.27H616.6ZM678.57 182.13H686.31V190.27H678.57ZM701.8 182.13H709.55V190.27H701.8ZM732.79 182.13H756.03V190.27H732.79ZM779.26 182.13H825.74V190.27H779.26ZM833.49 182.13H957.42V190.27H833.49ZM655.33 190.27H663.07V198.42H655.33ZM678.57 190.27H686.31V198.42H678.57ZM732.79 190.27H756.03V198.42H732.79ZM779.26 190.27H825.74V198.42H779.26ZM841.23 190.27H895.45V198.42H841.23ZM903.2 190.27H957.42V198.42H903.2ZM632.09 198.42H655.33V206.56H632.09ZM686.31 198.42H709.55V206.56H686.31ZM732.79 198.42H740.53V206.56H732.79ZM771.52 198.42H787.01V206.56H771.52ZM794.76 198.42H810.25V206.56H794.76ZM817.99 198.42H825.74V206.56H817.99ZM833.49 198.42H872.22V206.56H833.49ZM903.2 198.42H918.69V206.56H903.2ZM639.84 206.56H717.3V214.7H639.84ZM725.04 206.56H957.42V214.7H725.04ZM663.07 214.7H686.31V222.85H663.07ZM701.8 214.7H709.55V222.85H701.8ZM725.04 214.7H787.01V222.85H725.04ZM794.76 214.7H879.96V222.85H794.76ZM887.71 214.7H918.69V222.85H887.71ZM934.18 214.7H949.68V222.85H934.18ZM701.8 230.99H709.55V239.14H701.8ZM725.04 230.99H732.79V239.14H725.04ZM748.28 230.99H787.01V239.14H748.28ZM802.5 230.99H810.25V239.14H802.5ZM817.99 230.99H856.72V239.14H817.99ZM872.22 230.99H879.96V239.14H872.22ZM887.71 230.99H918.69V239.14H887.71ZM926.44 230.99H957.42V239.14H926.44ZM701.8 239.14H709.55V247.28H701.8ZM732.79 239.14H740.53V247.28H732.79ZM748.28 239.14H756.03V247.28H748.28ZM763.77 239.14H825.74V247.28H763.77ZM833.49 239.14H957.42V247.28H833.49ZM701.8 247.28H709.55V255.42H701.8ZM732.79 247.28H756.03V255.42H732.79ZM763.77 247.28H825.74V255.42H763.77ZM833.49 247.28H957.42V255.42H833.49ZM732.79 255.42H748.28V263.57H732.79ZM771.52 255.42H825.74V263.57H771.52ZM841.23 255.42H895.45V263.57H841.23ZM903.2 255.42H957.42V263.57H903.2ZM694.06 263.57H701.8V271.71H694.06ZM771.52 263.57H794.76V271.71H771.52ZM810.25 263.57H817.99V271.71H810.25ZM833.49 263.57H856.72V271.71H833.49ZM864.47 263.57H872.22V271.71H864.47ZM903.2 263.57H918.69V271.71H903.2ZM748.28 271.71H763.77V279.86H748.28ZM771.52 271.71H918.69V279.86H771.52ZM934.18 271.71H957.42V279.86H934.18ZM732.79 279.86H740.53V288H732.79ZM748.28 279.86H763.77V288H748.28ZM802.5 279.86H848.98V288H802.5ZM895.45 279.86H903.2V288H895.45ZM787.01 288H810.25V296.14H787.01ZM825.74 288H879.96V296.14H825.74ZM887.71 288H918.69V296.14H887.71ZM934.18 288H957.42V296.14H934.18ZM825.74 296.14H833.49V304.29H825.74ZM756.03 304.29H779.26V312.43H756.03ZM833.49 304.29H841.23V312.43H833.49ZM895.45 304.29H903.2V312.43H895.45ZM740.53 312.43H763.77V320.58H740.53ZM771.52 312.43H794.76V320.58H771.52ZM802.5 312.43H810.25V320.58H802.5ZM817.99 312.43H864.47V320.58H817.99ZM872.22 312.43H879.96V320.58H872.22ZM887.71 312.43H918.69V320.58H887.71ZM926.44 312.43H957.42V320.58H926.44ZM748.28 320.58H756.03V328.72H748.28ZM771.52 320.58H794.76V328.72H771.52ZM802.5 320.58H825.74V328.72H802.5ZM833.49 320.58H895.45V328.72H833.49ZM903.2 320.58H918.69V328.72H903.2ZM926.44 320.58H949.68V328.72H926.44ZM763.77 328.72H825.74V336.86H763.77ZM833.49 328.72H957.42V336.86H833.49ZM763.77 336.86H825.74V345.01H763.77ZM833.49 336.86H879.96V345.01H833.49ZM895.45 336.86H918.69V345.01H895.45ZM771.52 345.01H926.44V353.15H771.52ZM934.18 345.01H957.42V353.15H934.18ZM779.26 353.15H918.69V361.3H779.26ZM926.44 353.15H957.42V361.3H926.44ZM787.01 361.3H957.42V369.44H787.01ZM802.5 369.44H848.98V377.58H802.5ZM864.47 369.44H879.96V377.58H864.47ZM887.71 369.44H918.69V377.58H887.71ZM926.44 369.44H957.42V377.58H926.44ZM825.74 377.58H848.98V385.73H825.74ZM895.45 377.58H903.2V385.73H895.45ZM934.18 377.58H941.93V385.73H934.18ZM810.25 385.73H957.42V393.87H810.25ZM817.99 393.87H825.74V402.02H817.99ZM833.49 393.87H879.96V402.02H833.49ZM903.2 393.87H918.69V402.02H903.2ZM926.44 393.87H949.68V402.02H926.44ZM833.49 402.02H895.45V410.16H833.49ZM903.2 402.02H926.44V410.16H903.2ZM934.18 402.02H949.68V410.16H934.18ZM833.49 410.16H879.96V418.3H833.49ZM903.2 410.16H918.69V418.3H903.2ZM841.23 418.3H872.22V426.45H841.23ZM895.45 418.3H910.95V426.45H895.45ZM934.18 418.3H941.93V426.45H934.18ZM856.72 426.45H918.69V434.59H856.72ZM926.44 426.45H941.93V434.59H926.44ZM949.68 426.45H957.42V434.59H949.68ZM856.72 434.59H918.69V442.74H856.72ZM926.44 434.59H957.42V442.74H926.44ZM864.47 442.74H879.96V450.88H864.47ZM887.71 442.74H918.69V450.88H887.71ZM926.44 442.74H957.42V450.88H926.44ZM895.45 450.88H918.69V459.02H895.45ZM934.18 450.88H957.42V459.02H934.18ZM910.95 459.02H918.69V467.17H910.95ZM926.44 459.02H949.68V467.17H926.44ZM903.2 467.17H918.69V475.31H903.2ZM934.18 467.17H941.93V475.31H934.18ZM903.2 475.31H910.95V483.46H903.2ZM903.2 483.46H918.69V491.6H903.2ZM910.95 491.6H918.69V499.74H910.95ZM926.44 491.6H957.42V499.74H926.44ZM926.44 499.74H957.42V507.89H926.44ZM926.44 507.89H949.68V516.03H926.44ZM934.18 516.03H949.68V524.18H934.18Z" fill="#ff1400"/>
<path d="M523.65 84.4H531.39V92.54H523.65ZM585.61 84.4H593.36V92.54H585.61ZM531.39 92.54H554.63V100.69H531.39ZM585.61 92.54H593.36V100.69H585.61ZM608.85 92.54H616.6V100.69H608.85ZM686.31 100.69H694.06V108.83H686.31ZM585.61 108.83H593.36V116.98H585.61ZM717.3 108.83H725.04V116.98H717.3ZM585.61 116.98H593.36V125.12H585.61ZM601.11 116.98H624.34V125.12H601.11ZM670.82 116.98H678.57V125.12H670.82ZM562.38 125.12H570.12V133.26H562.38ZM577.87 125.12H593.36V133.26H577.87ZM585.61 149.55H593.36V157.7H585.61ZM624.34 149.55H632.09V157.7H624.34ZM686.31 149.55H701.8V157.7H686.31ZM593.36 157.7H601.11V165.84H593.36ZM608.85 157.7H616.6V165.84H608.85ZM624.34 157.7H639.84V165.84H624.34ZM686.31 157.7H694.06V165.84H686.31ZM756.03 157.7H763.77V165.84H756.03ZM608.85 173.98H616.6V182.13H608.85ZM663.07 173.98H670.82V182.13H663.07ZM717.3 173.98H725.04V182.13H717.3ZM709.55 222.85H717.3V230.99H709.55ZM717.3 230.99H725.04V239.14H717.3ZM678.57 247.28H686.31V255.42H678.57ZM748.28 255.42H756.03V263.57H748.28ZM756.03 263.57H763.77V271.71H756.03ZM709.55 279.86H717.3V288H709.55ZM725.04 296.14H740.53V304.29H725.04ZM794.76 296.14H802.5V304.29H794.76ZM732.79 304.29H740.53V312.43H732.79ZM787.01 304.29H810.25V312.43H787.01ZM864.47 304.29H872.22V312.43H864.47ZM879.96 304.29H887.71V312.43H879.96ZM918.69 304.29H926.44V312.43H918.69ZM802.5 377.58H810.25V385.73H802.5ZM864.47 377.58H887.71V385.73H864.47ZM918.69 377.58H934.18V385.73H918.69ZM926.44 410.16H934.18V418.3H926.44ZM887.71 467.17H895.45V475.31H887.71ZM926.44 483.46H934.18V491.6H926.44Z" fill="#0020fa"/>
<path d="M515.9 84.4h3.87v4.07h-3.87ZM515.9 544.54h3.87v4.07h-3.87ZM953.55 544.54h3.87v4.07h-3.87Z" fill="#00008f"/>
<g clip-path="url(#clipB)"><path d="M527.52 84.4V548.61M535.26 84.4V548.61M543.01 84.4V548.61M550.76 84.4V548.61M558.5 84.4V548.61M566.25 84.4V548.61M574 84.4V548.61M581.74 84.4V548.61M589.49 84.4V548.61M597.23 84.4V548.61M604.98 84.4V548.61M612.73 84.4V548.61M620.47 84.4V548.61M628.22 84.4V548.61M635.96 84.4V548.61M643.71 84.4V548.61M651.45 84.4V548.61M659.2 84.4V548.61M666.95 84.4V548.61M674.69 84.4V548.61M682.44 84.4V548.61M690.18 84.4V548.61M697.93 84.4V548.61M705.68 84.4V548.61M713.42 84.4V548.61M721.17 84.4V548.61M728.91 84.4V548.61M736.66 84.4V548.61M744.41 84.4V548.61M752.15 84.4V548.61M759.9 84.4V548.61M767.64 84.4V548.61M775.39 84.4V548.61M783.14 84.4V548.61M790.88 84.4V548.61M798.63 84.4V548.61M806.38 84.4V548.61M814.12 84.4V548.61M821.87 84.4V548.61M829.61 84.4V548.61M837.36 84.4V548.61M845.11 84.4V548.61M852.85 84.4V548.61M860.6 84.4V548.61M868.34 84.4V548.61M876.09 84.4V548.61M883.84 84.4V548.61M891.58 84.4V548.61M899.33 84.4V548.61M907.07 84.4V548.61M914.82 84.4V548.61M922.57 84.4V548.61M930.31 84.4V548.61M938.06 84.4V548.61M945.8 84.4V548.61M953.55 84.4V548.61" class="gv"/><path d="M515.9 88.47H957.42M515.9 96.62H957.42M515.9 104.76H957.42M515.9 112.9H957.42M515.9 121.05H957.42M515.9 129.19H957.42M515.9 137.34H957.42M515.9 145.48H957.42M515.9 153.62H957.42M515.9 161.77H957.42M515.9 169.91H957.42M515.9 178.06H957.42M515.9 186.2H957.42M515.9 194.34H957.42M515.9 202.49H957.42M515.9 210.63H957.42M515.9 218.78H957.42M515.9 226.92H957.42M515.9 235.06H957.42M515.9 243.21H957.42M515.9 251.35H957.42M515.9 259.5H957.42M515.9 267.64H957.42M515.9 275.78H957.42M515.9 283.93H957.42M515.9 292.07H957.42M515.9 300.22H957.42M515.9 308.36H957.42M515.9 316.5H957.42M515.9 324.65H957.42M515.9 332.79H957.42M515.9 340.94H957.42M515.9 349.08H957.42M515.9 357.22H957.42M515.9 365.37H957.42M515.9 373.51H957.42M515.9 381.66H957.42M515.9 389.8H957.42M515.9 397.94H957.42M515.9 406.09H957.42M515.9 414.23H957.42M515.9 422.38H957.42M515.9 430.52H957.42M515.9 438.66H957.42M515.9 446.81H957.42M515.9 454.95H957.42M515.9 463.1H957.42M515.9 471.24H957.42M515.9 479.38H957.42M515.9 487.53H957.42M515.9 495.67H957.42M515.9 503.82H957.42M515.9 511.96H957.42M515.9 520.1H957.42M515.9 528.25H957.42M515.9 536.39H957.42" class="gh"/></g>
<path d="M554.63 84.4V125.12H957.42M624.34 84.4V198.42H957.42M686.31 84.4V263.57H957.42M756.03 84.4V336.86H957.42M825.74 84.4V410.16H957.42M895.45 84.4V483.46H957.42M934.18 84.4V524.18H957.42" class="gb"/>
<path d="M527.52 84.4v4.4M527.52 548.61v-4.4M535.26 84.4v4.4M535.26 548.61v-4.4M543.01 84.4v4.4M543.01 548.61v-4.4M550.76 84.4v4.4M550.76 548.61v-4.4M558.5 84.4v4.4M558.5 548.61v-4.4M566.25 84.4v4.4M566.25 548.61v-4.4M574 84.4v4.4M574 548.61v-4.4M581.74 84.4v4.4M581.74 548.61v-4.4M589.49 84.4v4.4M589.49 548.61v-4.4M597.23 84.4v4.4M597.23 548.61v-4.4M604.98 84.4v4.4M604.98 548.61v-4.4M612.73 84.4v4.4M612.73 548.61v-4.4M620.47 84.4v4.4M620.47 548.61v-4.4M628.22 84.4v4.4M628.22 548.61v-4.4M635.96 84.4v4.4M635.96 548.61v-4.4M643.71 84.4v4.4M643.71 548.61v-4.4M651.45 84.4v4.4M651.45 548.61v-4.4M659.2 84.4v4.4M659.2 548.61v-4.4M666.95 84.4v4.4M666.95 548.61v-4.4M674.69 84.4v4.4M674.69 548.61v-4.4M682.44 84.4v4.4M682.44 548.61v-4.4M690.18 84.4v4.4M690.18 548.61v-4.4M697.93 84.4v4.4M697.93 548.61v-4.4M705.68 84.4v4.4M705.68 548.61v-4.4M713.42 84.4v4.4M713.42 548.61v-4.4M721.17 84.4v4.4M721.17 548.61v-4.4M728.91 84.4v4.4M728.91 548.61v-4.4M736.66 84.4v4.4M736.66 548.61v-4.4M744.41 84.4v4.4M744.41 548.61v-4.4M752.15 84.4v4.4M752.15 548.61v-4.4M759.9 84.4v4.4M759.9 548.61v-4.4M767.64 84.4v4.4M767.64 548.61v-4.4M775.39 84.4v4.4M775.39 548.61v-4.4M783.14 84.4v4.4M783.14 548.61v-4.4M790.88 84.4v4.4M790.88 548.61v-4.4M798.63 84.4v4.4M798.63 548.61v-4.4M806.38 84.4v4.4M806.38 548.61v-4.4M814.12 84.4v4.4M814.12 548.61v-4.4M821.87 84.4v4.4M821.87 548.61v-4.4M829.61 84.4v4.4M829.61 548.61v-4.4M837.36 84.4v4.4M837.36 548.61v-4.4M845.11 84.4v4.4M845.11 548.61v-4.4M852.85 84.4v4.4M852.85 548.61v-4.4M860.6 84.4v4.4M860.6 548.61v-4.4M868.34 84.4v4.4M868.34 548.61v-4.4M876.09 84.4v4.4M876.09 548.61v-4.4M883.84 84.4v4.4M883.84 548.61v-4.4M891.58 84.4v4.4M891.58 548.61v-4.4M899.33 84.4v4.4M899.33 548.61v-4.4M907.07 84.4v4.4M907.07 548.61v-4.4M914.82 84.4v4.4M914.82 548.61v-4.4M922.57 84.4v4.4M922.57 548.61v-4.4M930.31 84.4v4.4M930.31 548.61v-4.4M938.06 84.4v4.4M938.06 548.61v-4.4M945.8 84.4v4.4M945.8 548.61v-4.4M953.55 84.4v4.4M953.55 548.61v-4.4M515.9 88.47h4.4M957.42 88.47h-4.4M515.9 96.62h4.4M957.42 96.62h-4.4M515.9 104.76h4.4M957.42 104.76h-4.4M515.9 112.9h4.4M957.42 112.9h-4.4M515.9 121.05h4.4M957.42 121.05h-4.4M515.9 129.19h4.4M957.42 129.19h-4.4M515.9 137.34h4.4M957.42 137.34h-4.4M515.9 145.48h4.4M957.42 145.48h-4.4M515.9 153.62h4.4M957.42 153.62h-4.4M515.9 161.77h4.4M957.42 161.77h-4.4M515.9 169.91h4.4M957.42 169.91h-4.4M515.9 178.06h4.4M957.42 178.06h-4.4M515.9 186.2h4.4M957.42 186.2h-4.4M515.9 194.34h4.4M957.42 194.34h-4.4M515.9 202.49h4.4M957.42 202.49h-4.4M515.9 210.63h4.4M957.42 210.63h-4.4M515.9 218.78h4.4M957.42 218.78h-4.4M515.9 226.92h4.4M957.42 226.92h-4.4M515.9 235.06h4.4M957.42 235.06h-4.4M515.9 243.21h4.4M957.42 243.21h-4.4M515.9 251.35h4.4M957.42 251.35h-4.4M515.9 259.5h4.4M957.42 259.5h-4.4M515.9 267.64h4.4M957.42 267.64h-4.4M515.9 275.78h4.4M957.42 275.78h-4.4M515.9 283.93h4.4M957.42 283.93h-4.4M515.9 292.07h4.4M957.42 292.07h-4.4M515.9 300.22h4.4M957.42 300.22h-4.4M515.9 308.36h4.4M957.42 308.36h-4.4M515.9 316.5h4.4M957.42 316.5h-4.4M515.9 324.65h4.4M957.42 324.65h-4.4M515.9 332.79h4.4M957.42 332.79h-4.4M515.9 340.94h4.4M957.42 340.94h-4.4M515.9 349.08h4.4M957.42 349.08h-4.4M515.9 357.22h4.4M957.42 357.22h-4.4M515.9 365.37h4.4M957.42 365.37h-4.4M515.9 373.51h4.4M957.42 373.51h-4.4M515.9 381.66h4.4M957.42 381.66h-4.4M515.9 389.8h4.4M957.42 389.8h-4.4M515.9 397.94h4.4M957.42 397.94h-4.4M515.9 406.09h4.4M957.42 406.09h-4.4M515.9 414.23h4.4M957.42 414.23h-4.4M515.9 422.38h4.4M957.42 422.38h-4.4M515.9 430.52h4.4M957.42 430.52h-4.4M515.9 438.66h4.4M957.42 438.66h-4.4M515.9 446.81h4.4M957.42 446.81h-4.4M515.9 454.95h4.4M957.42 454.95h-4.4M515.9 463.1h4.4M957.42 463.1h-4.4M515.9 471.24h4.4M957.42 471.24h-4.4M515.9 479.38h4.4M957.42 479.38h-4.4M515.9 487.53h4.4M957.42 487.53h-4.4M515.9 495.67h4.4M957.42 495.67h-4.4M515.9 503.82h4.4M957.42 503.82h-4.4M515.9 511.96h4.4M957.42 511.96h-4.4M515.9 520.1h4.4M957.42 520.1h-4.4M515.9 528.25h4.4M957.42 528.25h-4.4M515.9 536.39h4.4M957.42 536.39h-4.4M515.9 544.54h4.4M957.42 544.54h-4.4" class="tk"/>
<path d="M554.63 84.4v4.8M957.42 125.12h-4.8M624.34 84.4v4.8M957.42 198.42h-4.8M686.31 84.4v4.8M957.42 263.57h-4.8M756.03 84.4v4.8M957.42 336.86h-4.8M825.74 84.4v4.8M957.42 410.16h-4.8M895.45 84.4v4.8M957.42 483.46h-4.8M934.18 84.4v4.8M957.42 524.18h-4.8" class="tb"/>
<path d="M515.9 84.4V548.61H957.42" class="ax"/>
<path d="M515.9 84.4H957.42V548.61" class="ax2"/>
<text class="pl" transform="translate(500.83 37.7) scale(1.0800 1)">B</text>
<text class="pt" transform="translate(561.83 35) scale(0.9722 1)">alpha</text>
<text class="tl" transform="translate(524.35 77.5) scale(1.0066 1)">AF</text>
<text class="tl" transform="translate(580.25 77.5) scale(0.9750 1)">F</text>
<text class="tl" transform="translate(641.66 77.5) scale(1.0186 1)">FC</text>
<text class="tl" transform="translate(711.1 77.5) scale(1.0044 1)">C</text>
<text class="tl" transform="translate(781.09 77.5) scale(1.0108 1)">CP</text>
<text class="tl" transform="translate(850.62 77.5) scale(0.9889 1)">P</text>
<text class="tl" transform="translate(900.04 77.5) scale(1.0298 1)">PO</text>
<text class="tl" transform="translate(940.72 77.5) scale(0.9846 1)">O</text>
<text class="rl" transform="translate(961.67 109.2) scale(1.0196 1)">AF</text>
<text class="rl" transform="translate(961.09 167.1) scale(0.9667 1)">F</text>
<text class="rl" transform="translate(960.92 238.8) scale(1.0500 1)">FC</text>
<text class="rl" transform="translate(960.67 306.2) scale(1.0000 1)">C</text>
<text class="rl" transform="translate(960.65 377.9) scale(1.0214 1)">CP</text>
<text class="rl" transform="translate(960.95 452.6) scale(0.9300 1)">P</text>
<text class="rl" transform="translate(960.98 513.3) scale(1.0226 1)">PO</text>
<text class="rl" transform="translate(960.11 544) scale(0.9724 1)">O</text>
</g>
<g id="panelC">
<path d="M1044.92 84.4V548.61M1052.66 84.4V548.61M1060.41 84.4V548.61M1068.16 84.4V548.61M1075.9 84.4V548.61M1083.65 84.4V548.61M1091.39 84.4V548.61M1099.14 84.4V548.61M1106.89 84.4V548.61M1114.63 84.4V548.61M1122.38 84.4V548.61M1130.12 84.4V548.61M1137.87 84.4V548.61M1145.62 84.4V548.61M1153.36 84.4V548.61M1161.11 84.4V548.61M1168.86 84.4V548.61M1176.6 84.4V548.61M1184.35 84.4V548.61M1192.09 84.4V548.61M1199.84 84.4V548.61M1207.59 84.4V548.61M1215.33 84.4V548.61M1223.08 84.4V548.61M1230.82 84.4V548.61M1238.57 84.4V548.61M1246.32 84.4V548.61M1254.06 84.4V548.61M1261.81 84.4V548.61M1269.55 84.4V548.61M1277.3 84.4V548.61M1285.05 84.4V548.61M1292.79 84.4V548.61M1300.54 84.4V548.61M1308.28 84.4V548.61M1316.03 84.4V548.61M1323.78 84.4V548.61M1331.52 84.4V548.61M1339.27 84.4V548.61M1347.01 84.4V548.61M1354.76 84.4V548.61M1362.51 84.4V548.61M1370.25 84.4V548.61M1378 84.4V548.61M1385.74 84.4V548.61M1393.49 84.4V548.61M1401.23 84.4V548.61M1408.98 84.4V548.61M1416.73 84.4V548.61M1424.47 84.4V548.61M1432.22 84.4V548.61M1439.96 84.4V548.61M1447.71 84.4V548.61M1455.46 84.4V548.61M1463.2 84.4V548.61M1470.95 84.4V548.61" class="wv"/>
<path d="M1033.3 88.47H1474.82M1033.3 96.62H1474.82M1033.3 104.76H1474.82M1033.3 112.9H1474.82M1033.3 121.05H1474.82M1033.3 129.19H1474.82M1033.3 137.34H1474.82M1033.3 145.48H1474.82M1033.3 153.62H1474.82M1033.3 161.77H1474.82M1033.3 169.91H1474.82M1033.3 178.06H1474.82M1033.3 186.2H1474.82M1033.3 194.34H1474.82M1033.3 202.49H1474.82M1033.3 210.63H1474.82M1033.3 218.78H1474.82M1033.3 226.92H1474.82M1033.3 235.06H1474.82M1033.3 243.21H1474.82M1033.3 251.35H1474.82M1033.3 259.5H1474.82M1033.3 267.64H1474.82M1033.3 275.78H1474.82M1033.3 283.93H1474.82M1033.3 292.07H1474.82M1033.3 300.22H1474.82M1033.3 308.36H1474.82M1033.3 316.5H1474.82M1033.3 324.65H1474.82M1033.3 332.79H1474.82M1033.3 340.94H1474.82M1033.3 349.08H1474.82M1033.3 357.22H1474.82M1033.3 365.37H1474.82M1033.3 373.51H1474.82M1033.3 381.66H1474.82M1033.3 389.8H1474.82M1033.3 397.94H1474.82M1033.3 406.09H1474.82M1033.3 414.23H1474.82M1033.3 422.38H1474.82M1033.3 430.52H1474.82M1033.3 438.66H1474.82M1033.3 446.81H1474.82M1033.3 454.95H1474.82M1033.3 463.1H1474.82M1033.3 471.24H1474.82M1033.3 479.38H1474.82M1033.3 487.53H1474.82M1033.3 495.67H1474.82M1033.3 503.82H1474.82M1033.3 511.96H1474.82M1033.3 520.1H1474.82M1033.3 528.25H1474.82M1033.3 536.39H1474.82" class="wh"/>
<path d="M1033.3 88.47H1474.82M1033.3 96.62H1474.82M1033.3 104.76H1474.82M1033.3 112.9H1474.82M1033.3 121.05H1474.82M1033.3 129.19H1474.82M1033.3 137.34H1474.82M1033.3 145.48H1474.82M1033.3 153.62H1474.82M1033.3 161.77H1474.82M1033.3 169.91H1474.82M1033.3 178.06H1474.82M1033.3 186.2H1474.82M1033.3 194.34H1474.82M1033.3 202.49H1474.82M1033.3 210.63H1474.82M1033.3 218.78H1474.82M1033.3 226.92H1474.82M1033.3 235.06H1474.82M1033.3 243.21H1474.82M1033.3 251.35H1474.82M1033.3 259.5H1474.82M1033.3 267.64H1474.82M1033.3 275.78H1474.82M1033.3 283.93H1474.82M1033.3 292.07H1474.82M1033.3 300.22H1474.82M1033.3 308.36H1474.82M1033.3 316.5H1474.82M1033.3 324.65H1474.82M1033.3 332.79H1474.82M1033.3 340.94H1474.82M1033.3 349.08H1474.82M1033.3 357.22H1474.82M1033.3 365.37H1474.82M1033.3 373.51H1474.82M1033.3 381.66H1474.82M1033.3 389.8H1474.82M1033.3 397.94H1474.82M1033.3 406.09H1474.82M1033.3 414.23H1474.82M1033.3 422.38H1474.82M1033.3 430.52H1474.82M1033.3 438.66H1474.82M1033.3 446.81H1474.82M1033.3 454.95H1474.82M1033.3 463.1H1474.82M1033.3 471.24H1474.82M1033.3 479.38H1474.82M1033.3 487.53H1474.82M1033.3 495.67H1474.82M1033.3 503.82H1474.82M1033.3 511.96H1474.82M1033.3 520.1H1474.82M1033.3 528.25H1474.82M1033.3 536.39H1474.82" class="wd" stroke-dasharray="1.3 6.45" stroke-dashoffset="-10.97"/>
<clipPath id="clipC"><path d="M1041.05 84.4H1474.82V92.54H1041.05ZM1048.79 92.54H1474.82V100.69H1048.79ZM1056.54 100.69H1474.82V108.83H1056.54ZM1064.28 108.83H1474.82V116.98H1064.28ZM1072.03 116.98H1474.82V125.12H1072.03ZM1079.78 125.12H1474.82V133.26H1079.78ZM1087.52 133.26H1474.82V141.41H1087.52ZM1095.27 141.41H1474.82V149.55H1095.27ZM1103.01 149.55H1474.82V157.7H1103.01ZM1110.76 157.7H1474.82V165.84H1110.76ZM1118.51 165.84H1474.82V173.98H1118.51ZM1126.25 173.98H1474.82V182.13H1126.25ZM1134 182.13H1474.82V190.27H1134ZM1141.74 190.27H1474.82V198.42H1141.74ZM1149.49 198.42H1474.82V206.56H1149.49ZM1157.24 206.56H1474.82V214.7H1157.24ZM1164.98 214.7H1474.82V222.85H1164.98ZM1172.73 222.85H1474.82V230.99H1172.73ZM1180.47 230.99H1474.82V239.14H1180.47ZM1188.22 239.14H1474.82V247.28H1188.22ZM1195.97 247.28H1474.82V255.42H1195.97ZM1203.71 255.42H1474.82V263.57H1203.71ZM1211.46 263.57H1474.82V271.71H1211.46ZM1219.2 271.71H1474.82V279.86H1219.2ZM1226.95 279.86H1474.82V288H1226.95ZM1234.7 288H1474.82V296.14H1234.7ZM1242.44 296.14H1474.82V304.29H1242.44ZM1250.19 304.29H1474.82V312.43H1250.19ZM1257.93 312.43H1474.82V320.58H1257.93ZM1265.68 320.58H1474.82V328.72H1265.68ZM1273.43 328.72H1474.82V336.86H1273.43ZM1281.17 336.86H1474.82V345.01H1281.17ZM1288.92 345.01H1474.82V353.15H1288.92ZM1296.66 353.15H1474.82V361.3H1296.66ZM1304.41 361.3H1474.82V369.44H1304.41ZM1312.16 369.44H1474.82V377.58H1312.16ZM1319.9 377.58H1474.82V385.73H1319.9ZM1327.65 385.73H1474.82V393.87H1327.65ZM1335.39 393.87H1474.82V402.02H1335.39ZM1343.14 402.02H1474.82V410.16H1343.14ZM1350.89 410.16H1474.82V418.3H1350.89ZM1358.63 418.3H1474.82V426.45H1358.63ZM1366.38 426.45H1474.82V434.59H1366.38ZM1374.12 434.59H1474.82V442.74H1374.12ZM1381.87 442.74H1474.82V450.88H1381.87ZM1389.62 450.88H1474.82V459.02H1389.62ZM1397.36 459.02H1474.82V467.17H1397.36ZM1405.11 467.17H1474.82V475.31H1405.11ZM1412.85 475.31H1474.82V483.46H1412.85ZM1420.6 483.46H1474.82V491.6H1420.6ZM1428.35 491.6H1474.82V499.74H1428.35ZM1436.09 499.74H1474.82V507.89H1436.09ZM1443.84 507.89H1474.82V516.03H1443.84ZM1451.58 516.03H1474.82V524.18H1451.58ZM1459.33 524.18H1474.82V532.32H1459.33ZM1467.08 532.32H1474.82V540.46H1467.08Z"/></clipPath>
<path d="M1041.05 84.4H1474.82V92.54H1041.05ZM1048.79 92.54H1474.82V100.69H1048.79ZM1056.54 100.69H1474.82V108.83H1056.54ZM1064.28 108.83H1474.82V116.98H1064.28ZM1072.03 116.98H1474.82V125.12H1072.03ZM1079.78 125.12H1474.82V133.26H1079.78ZM1087.52 133.26H1474.82V141.41H1087.52ZM1095.27 141.41H1474.82V149.55H1095.27ZM1103.01 149.55H1474.82V157.7H1103.01ZM1110.76 157.7H1474.82V165.84H1110.76ZM1118.51 165.84H1474.82V173.98H1118.51ZM1126.25 173.98H1474.82V182.13H1126.25ZM1134 182.13H1474.82V190.27H1134ZM1141.74 190.27H1474.82V198.42H1141.74ZM1149.49 198.42H1474.82V206.56H1149.49ZM1157.24 206.56H1474.82V214.7H1157.24ZM1164.98 214.7H1474.82V222.85H1164.98ZM1172.73 222.85H1474.82V230.99H1172.73ZM1180.47 230.99H1474.82V239.14H1180.47ZM1188.22 239.14H1474.82V247.28H1188.22ZM1195.97 247.28H1474.82V255.42H1195.97ZM1203.71 255.42H1474.82V263.57H1203.71ZM1211.46 263.57H1474.82V271.71H1211.46ZM1219.2 271.71H1474.82V279.86H1219.2ZM1226.95 279.86H1474.82V288H1226.95ZM1234.7 288H1474.82V296.14H1234.7ZM1242.44 296.14H1474.82V304.29H1242.44ZM1250.19 304.29H1474.82V312.43H1250.19ZM1257.93 312.43H1474.82V320.58H1257.93ZM1265.68 320.58H1474.82V328.72H1265.68ZM1273.43 328.72H1474.82V336.86H1273.43ZM1281.17 336.86H1474.82V345.01H1281.17ZM1288.92 345.01H1474.82V353.15H1288.92ZM1296.66 353.15H1474.82V361.3H1296.66ZM1304.41 361.3H1474.82V369.44H1304.41ZM1312.16 369.44H1474.82V377.58H1312.16ZM1319.9 377.58H1474.82V385.73H1319.9ZM1327.65 385.73H1474.82V393.87H1327.65ZM1335.39 393.87H1474.82V402.02H1335.39ZM1343.14 402.02H1474.82V410.16H1343.14ZM1350.89 410.16H1474.82V418.3H1350.89ZM1358.63 418.3H1474.82V426.45H1358.63ZM1366.38 426.45H1474.82V434.59H1366.38ZM1374.12 434.59H1474.82V442.74H1374.12ZM1381.87 442.74H1474.82V450.88H1381.87ZM1389.62 450.88H1474.82V459.02H1389.62ZM1397.36 459.02H1474.82V467.17H1397.36ZM1405.11 467.17H1474.82V475.31H1405.11ZM1412.85 475.31H1474.82V483.46H1412.85ZM1420.6 483.46H1474.82V491.6H1420.6ZM1428.35 491.6H1474.82V499.74H1428.35ZM1436.09 499.74H1474.82V507.89H1436.09ZM1443.84 507.89H1474.82V516.03H1443.84ZM1451.58 516.03H1474.82V524.18H1451.58ZM1459.33 524.18H1474.82V532.32H1459.33ZM1467.08 532.32H1474.82V540.46H1467.08Z" fill="#90fd70"/>
<path d="M1087.52 84.4H1095.27V92.54H1087.52ZM1141.74 84.4H1157.24V92.54H1141.74ZM1180.47 84.4H1188.22V92.54H1180.47ZM1195.97 84.4H1203.71V92.54H1195.97ZM1219.2 84.4H1226.95V92.54H1219.2ZM1250.19 84.4H1257.93V92.54H1250.19ZM1087.52 92.54H1095.27V100.69H1087.52ZM1164.98 92.54H1172.73V100.69H1164.98ZM1188.22 92.54H1195.97V100.69H1188.22ZM1265.68 92.54H1273.43V100.69H1265.68ZM1265.68 100.69H1273.43V108.83H1265.68ZM1072.03 108.83H1079.78V116.98H1072.03ZM1110.76 108.83H1141.74V116.98H1110.76ZM1149.49 108.83H1164.98V116.98H1149.49ZM1172.73 108.83H1203.71V116.98H1172.73ZM1250.19 108.83H1273.43V116.98H1250.19ZM1281.17 108.83H1288.92V116.98H1281.17ZM1319.9 108.83H1343.14V116.98H1319.9ZM1350.89 108.83H1358.63V116.98H1350.89ZM1405.11 108.83H1412.85V116.98H1405.11ZM1134 125.12H1157.24V133.26H1134ZM1188.22 125.12H1226.95V133.26H1188.22ZM1250.19 125.12H1273.43V133.26H1250.19ZM1281.17 125.12H1304.41V133.26H1281.17ZM1319.9 125.12H1343.14V133.26H1319.9ZM1350.89 125.12H1366.38V133.26H1350.89ZM1405.11 125.12H1412.85V133.26H1405.11ZM1420.6 125.12H1436.09V133.26H1420.6ZM1087.52 133.26H1095.27V141.41H1087.52ZM1110.76 133.26H1126.25V141.41H1110.76ZM1180.47 133.26H1195.97V141.41H1180.47ZM1219.2 133.26H1226.95V141.41H1219.2ZM1250.19 133.26H1273.43V141.41H1250.19ZM1281.17 133.26H1397.36V141.41H1281.17ZM1405.11 133.26H1436.09V141.41H1405.11ZM1451.58 133.26H1474.82V141.41H1451.58ZM1110.76 141.41H1126.25V149.55H1110.76ZM1141.74 141.41H1149.49V149.55H1141.74ZM1180.47 141.41H1226.95V149.55H1180.47ZM1250.19 141.41H1436.09V149.55H1250.19ZM1451.58 141.41H1474.82V149.55H1451.58ZM1164.98 149.55H1188.22V157.7H1164.98ZM1257.93 149.55H1273.43V157.7H1257.93ZM1335.39 149.55H1358.63V157.7H1335.39ZM1405.11 149.55H1428.35V157.7H1405.11ZM1451.58 149.55H1467.08V157.7H1451.58ZM1118.51 165.84H1126.25V173.98H1118.51ZM1134 165.84H1141.74V173.98H1134ZM1149.49 165.84H1157.24V173.98H1149.49ZM1172.73 165.84H1203.71V173.98H1172.73ZM1219.2 165.84H1226.95V173.98H1219.2ZM1242.44 165.84H1273.43V173.98H1242.44ZM1281.17 165.84H1296.66V173.98H1281.17ZM1312.16 165.84H1374.12V173.98H1312.16ZM1381.87 165.84H1474.82V173.98H1381.87ZM1195.97 173.98H1203.71V182.13H1195.97ZM1250.19 173.98H1265.68V182.13H1250.19ZM1319.9 173.98H1343.14V182.13H1319.9ZM1350.89 173.98H1358.63V182.13H1350.89ZM1405.11 173.98H1412.85V182.13H1405.11ZM1451.58 173.98H1467.08V182.13H1451.58ZM1134 182.13H1141.74V190.27H1134ZM1195.97 182.13H1203.71V190.27H1195.97ZM1219.2 182.13H1226.95V190.27H1219.2ZM1250.19 182.13H1273.43V190.27H1250.19ZM1296.66 182.13H1343.14V190.27H1296.66ZM1350.89 182.13H1474.82V190.27H1350.89ZM1172.73 190.27H1180.47V198.42H1172.73ZM1195.97 190.27H1203.71V198.42H1195.97ZM1250.19 190.27H1273.43V198.42H1250.19ZM1296.66 190.27H1343.14V198.42H1296.66ZM1358.63 190.27H1412.85V198.42H1358.63ZM1420.6 190.27H1474.82V198.42H1420.6ZM1149.49 198.42H1172.73V206.56H1149.49ZM1203.71 198.42H1226.95V206.56H1203.71ZM1288.92 198.42H1304.41V206.56H1288.92ZM1312.16 198.42H1327.65V206.56H1312.16ZM1335.39 198.42H1343.14V206.56H1335.39ZM1350.89 198.42H1389.62V206.56H1350.89ZM1420.6 198.42H1436.09V206.56H1420.6ZM1157.24 206.56H1234.7V214.7H1157.24ZM1242.44 206.56H1474.82V214.7H1242.44ZM1180.47 214.7H1203.71V222.85H1180.47ZM1219.2 214.7H1226.95V222.85H1219.2ZM1242.44 214.7H1304.41V222.85H1242.44ZM1312.16 214.7H1397.36V222.85H1312.16ZM1405.11 214.7H1436.09V222.85H1405.11ZM1451.58 214.7H1467.08V222.85H1451.58ZM1219.2 230.99H1226.95V239.14H1219.2ZM1242.44 230.99H1250.19V239.14H1242.44ZM1265.68 230.99H1304.41V239.14H1265.68ZM1319.9 230.99H1327.65V239.14H1319.9ZM1335.39 230.99H1374.12V239.14H1335.39ZM1389.62 230.99H1397.36V239.14H1389.62ZM1405.11 230.99H1436.09V239.14H1405.11ZM1443.84 230.99H1474.82V239.14H1443.84ZM1219.2 239.14H1226.95V247.28H1219.2ZM1250.19 239.14H1257.93V247.28H1250.19ZM1265.68 239.14H1273.43V247.28H1265.68ZM1281.17 239.14H1343.14V247.28H1281.17ZM1350.89 239.14H1474.82V247.28H1350.89ZM1219.2 247.28H1226.95V255.42H1219.2ZM1250.19 247.28H1273.43V255.42H1250.19ZM1281.17 247.28H1343.14V255.42H1281.17ZM1350.89 247.28H1474.82V255.42H1350.89ZM1250.19 255.42H1265.68V263.57H1250.19ZM1288.92 255.42H1343.14V263.57H1288.92ZM1358.63 255.42H1412.85V263.57H1358.63ZM1420.6 255.42H1474.82V263.57H1420.6ZM1211.46 263.57H1219.2V271.71H1211.46ZM1288.92 263.57H1312.16V271.71H1288.92ZM1319.9 263.57H1335.39V271.71H1319.9ZM1350.89 263.57H1374.12V271.71H1350.89ZM1381.87 263.57H1389.62V271.71H1381.87ZM1420.6 263.57H1436.09V271.71H1420.6ZM1250.19 271.71H1257.93V279.86H1250.19ZM1265.68 271.71H1281.17V279.86H1265.68ZM1288.92 271.71H1436.09V279.86H1288.92ZM1451.58 271.71H1474.82V279.86H1451.58ZM1250.19 279.86H1257.93V288H1250.19ZM1265.68 279.86H1281.17V288H1265.68ZM1319.9 279.86H1366.38V288H1319.9ZM1412.85 279.86H1420.6V288H1412.85ZM1304.41 288H1335.39V296.14H1304.41ZM1343.14 288H1397.36V296.14H1343.14ZM1405.11 288H1436.09V296.14H1405.11ZM1451.58 288H1474.82V296.14H1451.58ZM1343.14 296.14H1350.89V304.29H1343.14ZM1273.43 304.29H1296.66V312.43H1273.43ZM1350.89 304.29H1358.63V312.43H1350.89ZM1412.85 304.29H1420.6V312.43H1412.85ZM1257.93 312.43H1312.16V320.58H1257.93ZM1319.9 312.43H1327.65V320.58H1319.9ZM1335.39 312.43H1381.87V320.58H1335.39ZM1389.62 312.43H1397.36V320.58H1389.62ZM1405.11 312.43H1474.82V320.58H1405.11ZM1265.68 320.58H1273.43V328.72H1265.68ZM1288.92 320.58H1312.16V328.72H1288.92ZM1319.9 320.58H1343.14V328.72H1319.9ZM1350.89 320.58H1412.85V328.72H1350.89ZM1420.6 320.58H1436.09V328.72H1420.6ZM1443.84 320.58H1467.08V328.72H1443.84ZM1281.17 328.72H1343.14V336.86H1281.17ZM1350.89 328.72H1474.82V336.86H1350.89ZM1281.17 336.86H1343.14V345.01H1281.17ZM1350.89 336.86H1397.36V345.01H1350.89ZM1412.85 336.86H1436.09V345.01H1412.85ZM1288.92 345.01H1443.84V353.15H1288.92ZM1451.58 345.01H1474.82V353.15H1451.58ZM1296.66 353.15H1436.09V361.3H1296.66ZM1443.84 353.15H1474.82V361.3H1443.84ZM1304.41 361.3H1474.82V369.44H1304.41ZM1319.9 369.44H1366.38V377.58H1319.9ZM1381.87 369.44H1397.36V377.58H1381.87ZM1405.11 369.44H1436.09V377.58H1405.11ZM1443.84 369.44H1474.82V377.58H1443.84ZM1343.14 377.58H1366.38V385.73H1343.14ZM1412.85 377.58H1420.6V385.73H1412.85ZM1451.58 377.58H1459.33V385.73H1451.58ZM1327.65 385.73H1474.82V393.87H1327.65ZM1335.39 393.87H1343.14V402.02H1335.39ZM1350.89 393.87H1397.36V402.02H1350.89ZM1420.6 393.87H1467.08V402.02H1420.6ZM1350.89 402.02H1412.85V410.16H1350.89ZM1420.6 402.02H1443.84V410.16H1420.6ZM1451.58 402.02H1467.08V410.16H1451.58ZM1350.89 410.16H1397.36V418.3H1350.89ZM1420.6 410.16H1436.09V418.3H1420.6ZM1358.63 418.3H1389.62V426.45H1358.63ZM1412.85 418.3H1436.09V426.45H1412.85ZM1443.84 418.3H1459.33V426.45H1443.84ZM1374.12 426.45H1436.09V434.59H1374.12ZM1443.84 426.45H1459.33V434.59H1443.84ZM1467.08 426.45H1474.82V434.59H1467.08ZM1374.12 434.59H1436.09V442.74H1374.12ZM1443.84 434.59H1474.82V442.74H1443.84ZM1381.87 442.74H1397.36V450.88H1381.87ZM1405.11 442.74H1436.09V450.88H1405.11ZM1443.84 442.74H1474.82V450.88H1443.84ZM1412.85 450.88H1436.09V459.02H1412.85ZM1451.58 450.88H1474.82V459.02H1451.58ZM1428.35 459.02H1436.09V467.17H1428.35ZM1443.84 459.02H1467.08V467.17H1443.84ZM1420.6 467.17H1436.09V475.31H1420.6ZM1451.58 467.17H1459.33V475.31H1451.58ZM1420.6 475.31H1428.35V483.46H1420.6ZM1420.6 483.46H1436.09V491.6H1420.6ZM1428.35 491.6H1436.09V499.74H1428.35ZM1443.84 491.6H1474.82V499.74H1443.84ZM1443.84 499.74H1474.82V507.89H1443.84ZM1443.84 507.89H1467.08V516.03H1443.84ZM1451.58 516.03H1467.08V524.18H1451.58Z" fill="#ff1400"/>
<path d="M1041.05 84.4H1048.79V92.54H1041.05ZM1103.01 84.4H1110.76V92.54H1103.01ZM1048.79 92.54H1072.03V100.69H1048.79ZM1103.01 92.54H1110.76V100.69H1103.01ZM1126.25 92.54H1134V100.69H1126.25ZM1164.98 100.69H1172.73V108.83H1164.98ZM1203.71 100.69H1219.2V108.83H1203.71ZM1273.43 100.69H1281.17V108.83H1273.43ZM1103.01 108.83H1110.76V116.98H1103.01ZM1234.7 108.83H1242.44V116.98H1234.7ZM1103.01 116.98H1110.76V125.12H1103.01ZM1118.51 116.98H1141.74V125.12H1118.51ZM1188.22 116.98H1195.97V125.12H1188.22ZM1079.78 125.12H1087.52V133.26H1079.78ZM1095.27 125.12H1110.76V133.26H1095.27ZM1103.01 149.55H1110.76V157.7H1103.01ZM1141.74 149.55H1149.49V157.7H1141.74ZM1203.71 149.55H1219.2V157.7H1203.71ZM1110.76 157.7H1118.51V165.84H1110.76ZM1126.25 157.7H1134V165.84H1126.25ZM1141.74 157.7H1157.24V165.84H1141.74ZM1203.71 157.7H1211.46V165.84H1203.71ZM1273.43 157.7H1281.17V165.84H1273.43ZM1126.25 173.98H1134V182.13H1126.25ZM1180.47 173.98H1188.22V182.13H1180.47ZM1234.7 173.98H1242.44V182.13H1234.7ZM1226.95 222.85H1234.7V230.99H1226.95ZM1234.7 230.99H1242.44V239.14H1234.7ZM1195.97 247.28H1203.71V255.42H1195.97ZM1265.68 255.42H1273.43V263.57H1265.68ZM1273.43 263.57H1281.17V271.71H1273.43ZM1226.95 279.86H1234.7V288H1226.95ZM1242.44 296.14H1257.93V304.29H1242.44ZM1312.16 296.14H1319.9V304.29H1312.16ZM1250.19 304.29H1257.93V312.43H1250.19ZM1304.41 304.29H1335.39V312.43H1304.41ZM1381.87 304.29H1389.62V312.43H1381.87ZM1397.36 304.29H1405.11V312.43H1397.36ZM1436.09 304.29H1443.84V312.43H1436.09ZM1319.9 377.58H1327.65V385.73H1319.9ZM1381.87 377.58H1405.11V385.73H1381.87ZM1436.09 377.58H1451.58V385.73H1436.09ZM1443.84 410.16H1451.58V418.3H1443.84ZM1405.11 467.17H1412.85V475.31H1405.11ZM1443.84 483.46H1451.58V491.6H1443.84Z" fill="#0020fa"/>
<path d="M1033.3 84.4h3.87v4.07h-3.87ZM1033.3 544.54h3.87v4.07h-3.87ZM1470.95 544.54h3.87v4.07h-3.87Z" fill="#00008f"/>
<g clip-path="url(#clipC)"><path d="M1044.92 84.4V548.61M1052.66 84.4V548.61M1060.41 84.4V548.61M1068.16 84.4V548.61M1075.9 84.4V548.61M1083.65 84.4V548.61M1091.39 84.4V548.61M1099.14 84.4V548.61M1106.89 84.4V548.61M1114.63 84.4V548.61M1122.38 84.4V548.61M1130.12 84.4V548.61M1137.87 84.4V548.61M1145.62 84.4V548.61M1153.36 84.4V548.61M1161.11 84.4V548.61M1168.86 84.4V548.61M1176.6 84.4V548.61M1184.35 84.4V548.61M1192.09 84.4V548.61M1199.84 84.4V548.61M1207.59 84.4V548.61M1215.33 84.4V548.61M1223.08 84.4V548.61M1230.82 84.4V548.61M1238.57 84.4V548.61M1246.32 84.4V548.61M1254.06 84.4V548.61M1261.81 84.4V548.61M1269.55 84.4V548.61M1277.3 84.4V548.61M1285.05 84.4V548.61M1292.79 84.4V548.61M1300.54 84.4V548.61M1308.28 84.4V548.61M1316.03 84.4V548.61M1323.78 84.4V548.61M1331.52 84.4V548.61M1339.27 84.4V548.61M1347.01 84.4V548.61M1354.76 84.4V548.61M1362.51 84.4V548.61M1370.25 84.4V548.61M1378 84.4V548.61M1385.74 84.4V548.61M1393.49 84.4V548.61M1401.23 84.4V548.61M1408.98 84.4V548.61M1416.73 84.4V548.61M1424.47 84.4V548.61M1432.22 84.4V548.61M1439.96 84.4V548.61M1447.71 84.4V548.61M1455.46 84.4V548.61M1463.2 84.4V548.61M1470.95 84.4V548.61" class="gv"/><path d="M1033.3 88.47H1474.82M1033.3 96.62H1474.82M1033.3 104.76H1474.82M1033.3 112.9H1474.82M1033.3 121.05H1474.82M1033.3 129.19H1474.82M1033.3 137.34H1474.82M1033.3 145.48H1474.82M1033.3 153.62H1474.82M1033.3 161.77H1474.82M1033.3 169.91H1474.82M1033.3 178.06H1474.82M1033.3 186.2H1474.82M1033.3 194.34H1474.82M1033.3 202.49H1474.82M1033.3 210.63H1474.82M1033.3 218.78H1474.82M1033.3 226.92H1474.82M1033.3 235.06H1474.82M1033.3 243.21H1474.82M1033.3 251.35H1474.82M1033.3 259.5H1474.82M1033.3 267.64H1474.82M1033.3 275.78H1474.82M1033.3 283.93H1474.82M1033.3 292.07H1474.82M1033.3 300.22H1474.82M1033.3 308.36H1474.82M1033.3 316.5H1474.82M1033.3 324.65H1474.82M1033.3 332.79H1474.82M1033.3 340.94H1474.82M1033.3 349.08H1474.82M1033.3 357.22H1474.82M1033.3 365.37H1474.82M1033.3 373.51H1474.82M1033.3 381.66H1474.82M1033.3 389.8H1474.82M1033.3 397.94H1474.82M1033.3 406.09H1474.82M1033.3 414.23H1474.82M1033.3 422.38H1474.82M1033.3 430.52H1474.82M1033.3 438.66H1474.82M1033.3 446.81H1474.82M1033.3 454.95H1474.82M1033.3 463.1H1474.82M1033.3 471.24H1474.82M1033.3 479.38H1474.82M1033.3 487.53H1474.82M1033.3 495.67H1474.82M1033.3 503.82H1474.82M1033.3 511.96H1474.82M1033.3 520.1H1474.82M1033.3 528.25H1474.82M1033.3 536.39H1474.82" class="gh"/></g>
<path d="M1072.03 84.4V125.12H1474.82M1141.74 84.4V198.42H1474.82M1203.71 84.4V263.57H1474.82M1273.43 84.4V336.86H1474.82M1343.14 84.4V410.16H1474.82M1412.85 84.4V483.46H1474.82M1451.58 84.4V524.18H1474.82" class="gb"/>
<path d="M1044.92 84.4v4.4M1044.92 548.61v-4.4M1052.66 84.4v4.4M1052.66 548.61v-4.4M1060.41 84.4v4.4M1060.41 548.61v-4.4M1068.16 84.4v4.4M1068.16 548.61v-4.4M1075.9 84.4v4.4M1075.9 548.61v-4.4M1083.65 84.4v4.4M1083.65 548.61v-4.4M1091.39 84.4v4.4M1091.39 548.61v-4.4M1099.14 84.4v4.4M1099.14 548.61v-4.4M1106.89 84.4v4.4M1106.89 548.61v-4.4M1114.63 84.4v4.4M1114.63 548.61v-4.4M1122.38 84.4v4.4M1122.38 548.61v-4.4M1130.12 84.4v4.4M1130.12 548.61v-4.4M1137.87 84.4v4.4M1137.87 548.61v-4.4M1145.62 84.4v4.4M1145.62 548.61v-4.4M1153.36 84.4v4.4M1153.36 548.61v-4.4M1161.11 84.4v4.4M1161.11 548.61v-4.4M1168.86 84.4v4.4M1168.86 548.61v-4.4M1176.6 84.4v4.4M1176.6 548.61v-4.4M1184.35 84.4v4.4M1184.35 548.61v-4.4M1192.09 84.4v4.4M1192.09 548.61v-4.4M1199.84 84.4v4.4M1199.84 548.61v-4.4M1207.59 84.4v4.4M1207.59 548.61v-4.4M1215.33 84.4v4.4M1215.33 548.61v-4.4M1223.08 84.4v4.4M1223.08 548.61v-4.4M1230.82 84.4v4.4M1230.82 548.61v-4.4M1238.57 84.4v4.4M1238.57 548.61v-4.4M1246.32 84.4v4.4M1246.32 548.61v-4.4M1254.06 84.4v4.4M1254.06 548.61v-4.4M1261.81 84.4v4.4M1261.81 548.61v-4.4M1269.55 84.4v4.4M1269.55 548.61v-4.4M1277.3 84.4v4.4M1277.3 548.61v-4.4M1285.05 84.4v4.4M1285.05 548.61v-4.4M1292.79 84.4v4.4M1292.79 548.61v-4.4M1300.54 84.4v4.4M1300.54 548.61v-4.4M1308.28 84.4v4.4M1308.28 548.61v-4.4M1316.03 84.4v4.4M1316.03 548.61v-4.4M1323.78 84.4v4.4M1323.78 548.61v-4.4M1331.52 84.4v4.4M1331.52 548.61v-4.4M1339.27 84.4v4.4M1339.27 548.61v-4.4M1347.01 84.4v4.4M1347.01 548.61v-4.4M1354.76 84.4v4.4M1354.76 548.61v-4.4M1362.51 84.4v4.4M1362.51 548.61v-4.4M1370.25 84.4v4.4M1370.25 548.61v-4.4M1378 84.4v4.4M1378 548.61v-4.4M1385.74 84.4v4.4M1385.74 548.61v-4.4M1393.49 84.4v4.4M1393.49 548.61v-4.4M1401.23 84.4v4.4M1401.23 548.61v-4.4M1408.98 84.4v4.4M1408.98 548.61v-4.4M1416.73 84.4v4.4M1416.73 548.61v-4.4M1424.47 84.4v4.4M1424.47 548.61v-4.4M1432.22 84.4v4.4M1432.22 548.61v-4.4M1439.96 84.4v4.4M1439.96 548.61v-4.4M1447.71 84.4v4.4M1447.71 548.61v-4.4M1455.46 84.4v4.4M1455.46 548.61v-4.4M1463.2 84.4v4.4M1463.2 548.61v-4.4M1470.95 84.4v4.4M1470.95 548.61v-4.4M1033.3 88.47h4.4M1474.82 88.47h-4.4M1033.3 96.62h4.4M1474.82 96.62h-4.4M1033.3 104.76h4.4M1474.82 104.76h-4.4M1033.3 112.9h4.4M1474.82 112.9h-4.4M1033.3 121.05h4.4M1474.82 121.05h-4.4M1033.3 129.19h4.4M1474.82 129.19h-4.4M1033.3 137.34h4.4M1474.82 137.34h-4.4M1033.3 145.48h4.4M1474.82 145.48h-4.4M1033.3 153.62h4.4M1474.82 153.62h-4.4M1033.3 161.77h4.4M1474.82 161.77h-4.4M1033.3 169.91h4.4M1474.82 169.91h-4.4M1033.3 178.06h4.4M1474.82 178.06h-4.4M1033.3 186.2h4.4M1474.82 186.2h-4.4M1033.3 194.34h4.4M1474.82 194.34h-4.4M1033.3 202.49h4.4M1474.82 202.49h-4.4M1033.3 210.63h4.4M1474.82 210.63h-4.4M1033.3 218.78h4.4M1474.82 218.78h-4.4M1033.3 226.92h4.4M1474.82 226.92h-4.4M1033.3 235.06h4.4M1474.82 235.06h-4.4M1033.3 243.21h4.4M1474.82 243.21h-4.4M1033.3 251.35h4.4M1474.82 251.35h-4.4M1033.3 259.5h4.4M1474.82 259.5h-4.4M1033.3 267.64h4.4M1474.82 267.64h-4.4M1033.3 275.78h4.4M1474.82 275.78h-4.4M1033.3 283.93h4.4M1474.82 283.93h-4.4M1033.3 292.07h4.4M1474.82 292.07h-4.4M1033.3 300.22h4.4M1474.82 300.22h-4.4M1033.3 308.36h4.4M1474.82 308.36h-4.4M1033.3 316.5h4.4M1474.82 316.5h-4.4M1033.3 324.65h4.4M1474.82 324.65h-4.4M1033.3 332.79h4.4M1474.82 332.79h-4.4M1033.3 340.94h4.4M1474.82 340.94h-4.4M1033.3 349.08h4.4M1474.82 349.08h-4.4M1033.3 357.22h4.4M1474.82 357.22h-4.4M1033.3 365.37h4.4M1474.82 365.37h-4.4M1033.3 373.51h4.4M1474.82 373.51h-4.4M1033.3 381.66h4.4M1474.82 381.66h-4.4M1033.3 389.8h4.4M1474.82 389.8h-4.4M1033.3 397.94h4.4M1474.82 397.94h-4.4M1033.3 406.09h4.4M1474.82 406.09h-4.4M1033.3 414.23h4.4M1474.82 414.23h-4.4M1033.3 422.38h4.4M1474.82 422.38h-4.4M1033.3 430.52h4.4M1474.82 430.52h-4.4M1033.3 438.66h4.4M1474.82 438.66h-4.4M1033.3 446.81h4.4M1474.82 446.81h-4.4M1033.3 454.95h4.4M1474.82 454.95h-4.4M1033.3 463.1h4.4M1474.82 463.1h-4.4M1033.3 471.24h4.4M1474.82 471.24h-4.4M1033.3 479.38h4.4M1474.82 479.38h-4.4M1033.3 487.53h4.4M1474.82 487.53h-4.4M1033.3 495.67h4.4M1474.82 495.67h-4.4M1033.3 503.82h4.4M1474.82 503.82h-4.4M1033.3 511.96h4.4M1474.82 511.96h-4.4M1033.3 520.1h4.4M1474.82 520.1h-4.4M1033.3 528.25h4.4M1474.82 528.25h-4.4M1033.3 536.39h4.4M1474.82 536.39h-4.4M1033.3 544.54h4.4M1474.82 544.54h-4.4" class="tk"/>
<path d="M1072.03 84.4v4.8M1474.82 125.12h-4.8M1141.74 84.4v4.8M1474.82 198.42h-4.8M1203.71 84.4v4.8M1474.82 263.57h-4.8M1273.43 84.4v4.8M1474.82 336.86h-4.8M1343.14 84.4v4.8M1474.82 410.16h-4.8M1412.85 84.4v4.8M1474.82 483.46h-4.8M1451.58 84.4v4.8M1474.82 524.18h-4.8" class="tb"/>
<path d="M1033.3 84.4V548.61H1474.82" class="ax"/>
<path d="M1033.3 84.4H1474.82V548.61" class="ax2"/>
<text class="pl" transform="translate(1030.48 37.7) scale(1.0800 1)">C</text>
<text class="pt" transform="translate(1080.91 35) scale(0.9964 1)">beta-1</text>
<text class="tl" transform="translate(1041.75 77.5) scale(1.0066 1)">AF</text>
<text class="tl" transform="translate(1097.65 77.5) scale(0.9750 1)">F</text>
<text class="tl" transform="translate(1159.06 77.5) scale(1.0186 1)">FC</text>
<text class="tl" transform="translate(1228.5 77.5) scale(1.0044 1)">C</text>
<text class="tl" transform="translate(1298.49 77.5) scale(1.0108 1)">CP</text>
<text class="tl" transform="translate(1368.02 77.5) scale(0.9889 1)">P</text>
<text class="tl" transform="translate(1417.44 77.5) scale(1.0298 1)">PO</text>
<text class="tl" transform="translate(1458.12 77.5) scale(0.9846 1)">O</text>
<text class="rl" transform="translate(1479.07 109.2) scale(1.0196 1)">AF</text>
<text class="rl" transform="translate(1478.49 167.1) scale(0.9667 1)">F</text>
<text class="rl" transform="translate(1478.32 238.8) scale(1.0500 1)">FC</text>
<text class="rl" transform="translate(1478.07 306.2) scale(1.0000 1)">C</text>
<text class="rl" transform="translate(1478.05 377.9) scale(1.0214 1)">CP</text>
<text class="rl" transform="translate(1478.35 452.6) scale(0.9300 1)">P</text>
<text class="rl" transform="translate(1478.38 513.3) scale(1.0226 1)">PO</text>
<text class="rl" transform="translate(1477.51 544) scale(0.9724 1)">O</text>
</g>
<g id="panelD">
<path d="M1564.82 84.4V548.61M1572.57 84.4V548.61M1580.31 84.4V548.61M1588.06 84.4V548.61M1595.8 84.4V548.61M1603.55 84.4V548.61M1611.3 84.4V548.61M1619.04 84.4V548.61M1626.79 84.4V548.61M1634.53 84.4V548.61M1642.28 84.4V548.61M1650.03 84.4V548.61M1657.77 84.4V548.61M1665.52 84.4V548.61M1673.26 84.4V548.61M1681.01 84.4V548.61M1688.76 84.4V548.61M1696.5 84.4V548.61M1704.25 84.4V548.61M1711.99 84.4V548.61M1719.74 84.4V548.61M1727.49 84.4V548.61M1735.23 84.4V548.61M1742.98 84.4V548.61M1750.72 84.4V548.61M1758.47 84.4V548.61M1766.22 84.4V548.61M1773.96 84.4V548.61M1781.71 84.4V548.61M1789.45 84.4V548.61M1797.2 84.4V548.61M1804.95 84.4V548.61M1812.69 84.4V548.61M1820.44 84.4V548.61M1828.18 84.4V548.61M1835.93 84.4V548.61M1843.68 84.4V548.61M1851.42 84.4V548.61M1859.17 84.4V548.61M1866.91 84.4V548.61M1874.66 84.4V548.61M1882.41 84.4V548.61M1890.15 84.4V548.61M1897.9 84.4V548.61M1905.64 84.4V548.61M1913.39 84.4V548.61M1921.13 84.4V548.61M1928.88 84.4V548.61M1936.63 84.4V548.61M1944.37 84.4V548.61M1952.12 84.4V548.61M1959.87 84.4V548.61M1967.61 84.4V548.61M1975.36 84.4V548.61M1983.1 84.4V548.61M1990.85 84.4V548.61" class="wv"/>
<path d="M1553.2 88.47H1994.72M1553.2 96.62H1994.72M1553.2 104.76H1994.72M1553.2 112.9H1994.72M1553.2 121.05H1994.72M1553.2 129.19H1994.72M1553.2 137.34H1994.72M1553.2 145.48H1994.72M1553.2 153.62H1994.72M1553.2 161.77H1994.72M1553.2 169.91H1994.72M1553.2 178.06H1994.72M1553.2 186.2H1994.72M1553.2 194.34H1994.72M1553.2 202.49H1994.72M1553.2 210.63H1994.72M1553.2 218.78H1994.72M1553.2 226.92H1994.72M1553.2 235.06H1994.72M1553.2 243.21H1994.72M1553.2 251.35H1994.72M1553.2 259.5H1994.72M1553.2 267.64H1994.72M1553.2 275.78H1994.72M1553.2 283.93H1994.72M1553.2 292.07H1994.72M1553.2 300.22H1994.72M1553.2 308.36H1994.72M1553.2 316.5H1994.72M1553.2 324.65H1994.72M1553.2 332.79H1994.72M1553.2 340.94H1994.72M1553.2 349.08H1994.72M1553.2 357.22H1994.72M1553.2 365.37H1994.72M1553.2 373.51H1994.72M1553.2 381.66H1994.72M1553.2 389.8H1994.72M1553.2 397.94H1994.72M1553.2 406.09H1994.72M1553.2 414.23H1994.72M1553.2 422.38H1994.72M1553.2 430.52H1994.72M1553.2 438.66H1994.72M1553.2 446.81H1994.72M1553.2 454.95H1994.72M1553.2 463.1H1994.72M1553.2 471.24H1994.72M1553.2 479.38H1994.72M1553.2 487.53H1994.72M1553.2 495.67H1994.72M1553.2 503.82H1994.72M1553.2 511.96H1994.72M1553.2 520.1H1994.72M1553.2 528.25H1994.72M1553.2 536.39H1994.72" class="wh"/>
<path d="M1553.2 88.47H1994.72M1553.2 96.62H1994.72M1553.2 104.76H1994.72M1553.2 112.9H1994.72M1553.2 121.05H1994.72M1553.2 129.19H1994.72M1553.2 137.34H1994.72M1553.2 145.48H1994.72M1553.2 153.62H1994.72M1553.2 161.77H1994.72M1553.2 169.91H1994.72M1553.2 178.06H1994.72M1553.2 186.2H1994.72M1553.2 194.34H1994.72M1553.2 202.49H1994.72M1553.2 210.63H1994.72M1553.2 218.78H1994.72M1553.2 226.92H1994.72M1553.2 235.06H1994.72M1553.2 243.21H1994.72M1553.2 251.35H1994.72M1553.2 259.5H1994.72M1553.2 267.64H1994.72M1553.2 275.78H1994.72M1553.2 283.93H1994.72M1553.2 292.07H1994.72M1553.2 300.22H1994.72M1553.2 308.36H1994.72M1553.2 316.5H1994.72M1553.2 324.65H1994.72M1553.2 332.79H1994.72M1553.2 340.94H1994.72M1553.2 349.08H1994.72M1553.2 357.22H1994.72M1553.2 365.37H1994.72M1553.2 373.51H1994.72M1553.2 381.66H1994.72M1553.2 389.8H1994.72M1553.2 397.94H1994.72M1553.2 406.09H1994.72M1553.2 414.23H1994.72M1553.2 422.38H1994.72M1553.2 430.52H1994.72M1553.2 438.66H1994.72M1553.2 446.81H1994.72M1553.2 454.95H1994.72M1553.2 463.1H1994.72M1553.2 471.24H1994.72M1553.2 479.38H1994.72M1553.2 487.53H1994.72M1553.2 495.67H1994.72M1553.2 503.82H1994.72M1553.2 511.96H1994.72M1553.2 520.1H1994.72M1553.2 528.25H1994.72M1553.2 536.39H1994.72" class="wd" stroke-dasharray="1.3 6.45" stroke-dashoffset="-10.97"/>
<clipPath id="clipD"><path d="M1560.95 84.4H1994.72V92.54H1560.95ZM1568.69 92.54H1994.72V100.69H1568.69ZM1576.44 100.69H1994.72V108.83H1576.44ZM1584.18 108.83H1994.72V116.98H1584.18ZM1591.93 116.98H1994.72V125.12H1591.93ZM1599.68 125.12H1994.72V133.26H1599.68ZM1607.42 133.26H1994.72V141.41H1607.42ZM1615.17 141.41H1994.72V149.55H1615.17ZM1622.91 149.55H1994.72V157.7H1622.91ZM1630.66 157.7H1994.72V165.84H1630.66ZM1638.41 165.84H1994.72V173.98H1638.41ZM1646.15 173.98H1994.72V182.13H1646.15ZM1653.9 182.13H1994.72V190.27H1653.9ZM1661.64 190.27H1994.72V198.42H1661.64ZM1669.39 198.42H1994.72V206.56H1669.39ZM1677.14 206.56H1994.72V214.7H1677.14ZM1684.88 214.7H1994.72V222.85H1684.88ZM1692.63 222.85H1994.72V230.99H1692.63ZM1700.37 230.99H1994.72V239.14H1700.37ZM1708.12 239.14H1994.72V247.28H1708.12ZM1715.87 247.28H1994.72V255.42H1715.87ZM1723.61 255.42H1994.72V263.57H1723.61ZM1731.36 263.57H1994.72V271.71H1731.36ZM1739.1 271.71H1994.72V279.86H1739.1ZM1746.85 279.86H1994.72V288H1746.85ZM1754.6 288H1994.72V296.14H1754.6ZM1762.34 296.14H1994.72V304.29H1762.34ZM1770.09 304.29H1994.72V312.43H1770.09ZM1777.83 312.43H1994.72V320.58H1777.83ZM1785.58 320.58H1994.72V328.72H1785.58ZM1793.33 328.72H1994.72V336.86H1793.33ZM1801.07 336.86H1994.72V345.01H1801.07ZM1808.82 345.01H1994.72V353.15H1808.82ZM1816.56 353.15H1994.72V361.3H1816.56ZM1824.31 361.3H1994.72V369.44H1824.31ZM1832.06 369.44H1994.72V377.58H1832.06ZM1839.8 377.58H1994.72V385.73H1839.8ZM1847.55 385.73H1994.72V393.87H1847.55ZM1855.29 393.87H1994.72V402.02H1855.29ZM1863.04 402.02H1994.72V410.16H1863.04ZM1870.79 410.16H1994.72V418.3H1870.79ZM1878.53 418.3H1994.72V426.45H1878.53ZM1886.28 426.45H1994.72V434.59H1886.28ZM1894.02 434.59H1994.72V442.74H1894.02ZM1901.77 442.74H1994.72V450.88H1901.77ZM1909.52 450.88H1994.72V459.02H1909.52ZM1917.26 459.02H1994.72V467.17H1917.26ZM1925.01 467.17H1994.72V475.31H1925.01ZM1932.75 475.31H1994.72V483.46H1932.75ZM1940.5 483.46H1994.72V491.6H1940.5ZM1948.25 491.6H1994.72V499.74H1948.25ZM1955.99 499.74H1994.72V507.89H1955.99ZM1963.74 507.89H1994.72V516.03H1963.74ZM1971.48 516.03H1994.72V524.18H1971.48ZM1979.23 524.18H1994.72V532.32H1979.23ZM1986.98 532.32H1994.72V540.46H1986.98Z"/></clipPath>
<path d="M1560.95 84.4H1994.72V92.54H1560.95ZM1568.69 92.54H1994.72V100.69H1568.69ZM1576.44 100.69H1994.72V108.83H1576.44ZM1584.18 108.83H1994.72V116.98H1584.18ZM1591.93 116.98H1994.72V125.12H1591.93ZM1599.68 125.12H1994.72V133.26H1599.68ZM1607.42 133.26H1994.72V141.41H1607.42ZM1615.17 141.41H1994.72V149.55H1615.17ZM1622.91 149.55H1994.72V157.7H1622.91ZM1630.66 157.7H1994.72V165.84H1630.66ZM1638.41 165.84H1994.72V173.98H1638.41ZM1646.15 173.98H1994.72V182.13H1646.15ZM1653.9 182.13H1994.72V190.27H1653.9ZM1661.64 190.27H1994.72V198.42H1661.64ZM1669.39 198.42H1994.72V206.56H1669.39ZM1677.14 206.56H1994.72V214.7H1677.14ZM1684.88 214.7H1994.72V222.85H1684.88ZM1692.63 222.85H1994.72V230.99H1692.63ZM1700.37 230.99H1994.72V239.14H1700.37ZM1708.12 239.14H1994.72V247.28H1708.12ZM1715.87 247.28H1994.72V255.42H1715.87ZM1723.61 255.42H1994.72V263.57H1723.61ZM1731.36 263.57H1994.72V271.71H1731.36ZM1739.1 271.71H1994.72V279.86H1739.1ZM1746.85 279.86H1994.72V288H1746.85ZM1754.6 288H1994.72V296.14H1754.6ZM1762.34 296.14H1994.72V304.29H1762.34ZM1770.09 304.29H1994.72V312.43H1770.09ZM1777.83 312.43H1994.72V320.58H1777.83ZM1785.58 320.58H1994.72V328.72H1785.58ZM1793.33 328.72H1994.72V336.86H1793.33ZM1801.07 336.86H1994.72V345.01H1801.07ZM1808.82 345.01H1994.72V353.15H1808.82ZM1816.56 353.15H1994.72V361.3H1816.56ZM1824.31 361.3H1994.72V369.44H1824.31ZM1832.06 369.44H1994.72V377.58H1832.06ZM1839.8 377.58H1994.72V385.73H1839.8ZM1847.55 385.73H1994.72V393.87H1847.55ZM1855.29 393.87H1994.72V402.02H1855.29ZM1863.04 402.02H1994.72V410.16H1863.04ZM1870.79 410.16H1994.72V418.3H1870.79ZM1878.53 418.3H1994.72V426.45H1878.53ZM1886.28 426.45H1994.72V434.59H1886.28ZM1894.02 434.59H1994.72V442.74H1894.02ZM1901.77 442.74H1994.72V450.88H1901.77ZM1909.52 450.88H1994.72V459.02H1909.52ZM1917.26 459.02H1994.72V467.17H1917.26ZM1925.01 467.17H1994.72V475.31H1925.01ZM1932.75 475.31H1994.72V483.46H1932.75ZM1940.5 483.46H1994.72V491.6H1940.5ZM1948.25 491.6H1994.72V499.74H1948.25ZM1955.99 499.74H1994.72V507.89H1955.99ZM1963.74 507.89H1994.72V516.03H1963.74ZM1971.48 516.03H1994.72V524.18H1971.48ZM1979.23 524.18H1994.72V532.32H1979.23ZM1986.98 532.32H1994.72V540.46H1986.98Z" fill="#90fd70"/>
<path d="M1591.93 84.4H1599.68V92.54H1591.93ZM1607.42 84.4H1615.17V92.54H1607.42ZM1638.41 84.4H1646.15V92.54H1638.41ZM1661.64 84.4H1692.63V92.54H1661.64ZM1700.37 84.4H1708.12V92.54H1700.37ZM1739.1 84.4H1746.85V92.54H1739.1ZM1607.42 92.54H1622.91V100.69H1607.42ZM1684.88 92.54H1692.63V100.69H1684.88ZM1607.42 100.69H1615.17V108.83H1607.42ZM1785.58 100.69H1793.33V108.83H1785.58ZM1591.93 108.83H1599.68V116.98H1591.93ZM1607.42 108.83H1615.17V116.98H1607.42ZM1630.66 108.83H1661.64V116.98H1630.66ZM1669.39 108.83H1684.88V116.98H1669.39ZM1692.63 108.83H1723.61V116.98H1692.63ZM1739.1 108.83H1746.85V116.98H1739.1ZM1770.09 108.83H1808.82V116.98H1770.09ZM1839.8 108.83H1863.04V116.98H1839.8ZM1870.79 108.83H1886.28V116.98H1870.79ZM1909.52 108.83H1932.75V116.98H1909.52ZM1607.42 125.12H1615.17V133.26H1607.42ZM1638.41 125.12H1646.15V133.26H1638.41ZM1661.64 125.12H1684.88V133.26H1661.64ZM1700.37 125.12H1708.12V133.26H1700.37ZM1723.61 125.12H1746.85V133.26H1723.61ZM1770.09 125.12H1777.83V133.26H1770.09ZM1785.58 125.12H1793.33V133.26H1785.58ZM1808.82 125.12H1824.31V133.26H1808.82ZM1847.55 125.12H1863.04V133.26H1847.55ZM1870.79 125.12H1886.28V133.26H1870.79ZM1940.5 125.12H1955.99V133.26H1940.5ZM1607.42 133.26H1615.17V141.41H1607.42ZM1630.66 133.26H1646.15V141.41H1630.66ZM1661.64 133.26H1669.39V141.41H1661.64ZM1700.37 133.26H1708.12V141.41H1700.37ZM1731.36 133.26H1746.85V141.41H1731.36ZM1770.09 133.26H1777.83V141.41H1770.09ZM1785.58 133.26H1793.33V141.41H1785.58ZM1801.07 133.26H1863.04V141.41H1801.07ZM1870.79 133.26H1909.52V141.41H1870.79ZM1925.01 133.26H1955.99V141.41H1925.01ZM1971.48 133.26H1986.98V141.41H1971.48ZM1630.66 141.41H1646.15V149.55H1630.66ZM1653.9 141.41H1669.39V149.55H1653.9ZM1684.88 141.41H1746.85V149.55H1684.88ZM1770.09 141.41H1955.99V149.55H1770.09ZM1971.48 141.41H1994.72V149.55H1971.48ZM1638.41 149.55H1646.15V157.7H1638.41ZM1684.88 149.55H1715.87V157.7H1684.88ZM1777.83 149.55H1793.33V157.7H1777.83ZM1847.55 149.55H1878.53V157.7H1847.55ZM1925.01 149.55H1955.99V157.7H1925.01ZM1971.48 149.55H1986.98V157.7H1971.48ZM1692.63 157.7H1700.37V165.84H1692.63ZM1638.41 165.84H1661.64V173.98H1638.41ZM1677.14 165.84H1684.88V173.98H1677.14ZM1692.63 165.84H1723.61V173.98H1692.63ZM1739.1 165.84H1746.85V173.98H1739.1ZM1762.34 165.84H1808.82V173.98H1762.34ZM1832.06 165.84H1894.02V173.98H1832.06ZM1901.77 165.84H1994.72V173.98H1901.77ZM1653.9 173.98H1661.64V182.13H1653.9ZM1677.14 173.98H1684.88V182.13H1677.14ZM1692.63 173.98H1700.37V182.13H1692.63ZM1715.87 173.98H1723.61V182.13H1715.87ZM1739.1 173.98H1746.85V182.13H1739.1ZM1770.09 173.98H1793.33V182.13H1770.09ZM1839.8 173.98H1863.04V182.13H1839.8ZM1870.79 173.98H1886.28V182.13H1870.79ZM1909.52 173.98H1932.75V182.13H1909.52ZM1948.25 173.98H1955.99V182.13H1948.25ZM1979.23 173.98H1986.98V182.13H1979.23ZM1653.9 182.13H1661.64V190.27H1653.9ZM1677.14 182.13H1684.88V190.27H1677.14ZM1692.63 182.13H1700.37V190.27H1692.63ZM1715.87 182.13H1723.61V190.27H1715.87ZM1739.1 182.13H1746.85V190.27H1739.1ZM1762.34 182.13H1793.33V190.27H1762.34ZM1801.07 182.13H1808.82V190.27H1801.07ZM1816.56 182.13H1863.04V190.27H1816.56ZM1870.79 182.13H1994.72V190.27H1870.79ZM1677.14 190.27H1684.88V198.42H1677.14ZM1692.63 190.27H1708.12V198.42H1692.63ZM1715.87 190.27H1723.61V198.42H1715.87ZM1770.09 190.27H1793.33V198.42H1770.09ZM1801.07 190.27H1863.04V198.42H1801.07ZM1870.79 190.27H1932.75V198.42H1870.79ZM1940.5 190.27H1994.72V198.42H1940.5ZM1669.39 198.42H1692.63V206.56H1669.39ZM1723.61 198.42H1746.85V206.56H1723.61ZM1808.82 198.42H1824.31V206.56H1808.82ZM1832.06 198.42H1839.8V206.56H1832.06ZM1870.79 198.42H1894.02V206.56H1870.79ZM1901.77 198.42H1909.52V206.56H1901.77ZM1940.5 198.42H1955.99V206.56H1940.5ZM1677.14 206.56H1963.74V214.7H1677.14ZM1971.48 206.56H1994.72V214.7H1971.48ZM1692.63 214.7H1723.61V222.85H1692.63ZM1739.1 214.7H1746.85V222.85H1739.1ZM1770.09 214.7H1824.31V222.85H1770.09ZM1832.06 214.7H1955.99V222.85H1832.06ZM1971.48 214.7H1994.72V222.85H1971.48ZM1723.61 222.85H1739.1V230.99H1723.61ZM1708.12 230.99H1723.61V239.14H1708.12ZM1739.1 230.99H1746.85V239.14H1739.1ZM1762.34 230.99H1770.09V239.14H1762.34ZM1777.83 230.99H1824.31V239.14H1777.83ZM1839.8 230.99H1894.02V239.14H1839.8ZM1909.52 230.99H1994.72V239.14H1909.52ZM1739.1 239.14H1746.85V247.28H1739.1ZM1770.09 239.14H1793.33V247.28H1770.09ZM1801.07 239.14H1863.04V247.28H1801.07ZM1870.79 239.14H1994.72V247.28H1870.79ZM1739.1 247.28H1746.85V255.42H1739.1ZM1770.09 247.28H1793.33V255.42H1770.09ZM1801.07 247.28H1863.04V255.42H1801.07ZM1870.79 247.28H1932.75V255.42H1870.79ZM1940.5 247.28H1994.72V255.42H1940.5ZM1770.09 255.42H1785.58V263.57H1770.09ZM1808.82 255.42H1863.04V263.57H1808.82ZM1878.53 255.42H1932.75V263.57H1878.53ZM1940.5 255.42H1971.48V263.57H1940.5ZM1986.98 255.42H1994.72V263.57H1986.98ZM1731.36 263.57H1746.85V271.71H1731.36ZM1808.82 263.57H1839.8V271.71H1808.82ZM1870.79 263.57H1894.02V271.71H1870.79ZM1901.77 263.57H1909.52V271.71H1901.77ZM1940.5 263.57H1955.99V271.71H1940.5ZM1754.6 271.71H1762.34V279.86H1754.6ZM1785.58 271.71H1963.74V279.86H1785.58ZM1971.48 271.71H1994.72V279.86H1971.48ZM1770.09 279.86H1777.83V288H1770.09ZM1785.58 279.86H1808.82V288H1785.58ZM1839.8 279.86H1886.28V288H1839.8ZM1932.75 279.86H1940.5V288H1932.75ZM1785.58 288H1801.07V296.14H1785.58ZM1824.31 288H1955.99V296.14H1824.31ZM1963.74 288H1994.72V296.14H1963.74ZM1863.04 296.14H1870.79V304.29H1863.04ZM1793.33 304.29H1808.82V312.43H1793.33ZM1863.04 304.29H1878.53V312.43H1863.04ZM1932.75 304.29H1940.5V312.43H1932.75ZM1777.83 312.43H1793.33V320.58H1777.83ZM1808.82 312.43H1832.06V320.58H1808.82ZM1847.55 312.43H1863.04V320.58H1847.55ZM1870.79 312.43H1901.77V320.58H1870.79ZM1909.52 312.43H1917.26V320.58H1909.52ZM1925.01 312.43H1932.75V320.58H1925.01ZM1940.5 312.43H1955.99V320.58H1940.5ZM1963.74 312.43H1994.72V320.58H1963.74ZM1785.58 320.58H1793.33V328.72H1785.58ZM1801.07 320.58H1832.06V328.72H1801.07ZM1839.8 320.58H1847.55V328.72H1839.8ZM1855.29 320.58H1863.04V328.72H1855.29ZM1870.79 320.58H1932.75V328.72H1870.79ZM1940.5 320.58H1955.99V328.72H1940.5ZM1971.48 320.58H1979.23V328.72H1971.48ZM1801.07 328.72H1863.04V336.86H1801.07ZM1870.79 328.72H1994.72V336.86H1870.79ZM1801.07 336.86H1855.29V345.01H1801.07ZM1870.79 336.86H1909.52V345.01H1870.79ZM1940.5 336.86H1955.99V345.01H1940.5ZM1808.82 345.01H1963.74V353.15H1808.82ZM1971.48 345.01H1994.72V353.15H1971.48ZM1816.56 353.15H1955.99V361.3H1816.56ZM1963.74 353.15H1994.72V361.3H1963.74ZM1824.31 361.3H1994.72V369.44H1824.31ZM1839.8 369.44H1886.28V377.58H1839.8ZM1901.77 369.44H1917.26V377.58H1901.77ZM1932.75 369.44H1955.99V377.58H1932.75ZM1963.74 369.44H1994.72V377.58H1963.74ZM1863.04 377.58H1886.28V385.73H1863.04ZM1932.75 377.58H1948.25V385.73H1932.75ZM1971.48 377.58H1979.23V385.73H1971.48ZM1847.55 385.73H1925.01V393.87H1847.55ZM1932.75 385.73H1994.72V393.87H1932.75ZM1855.29 393.87H1863.04V402.02H1855.29ZM1870.79 393.87H1917.26V402.02H1870.79ZM1940.5 393.87H1979.23V402.02H1940.5ZM1870.79 402.02H1932.75V410.16H1870.79ZM1940.5 402.02H1963.74V410.16H1940.5ZM1971.48 402.02H1979.23V410.16H1971.48ZM1870.79 410.16H1909.52V418.3H1870.79ZM1940.5 410.16H1955.99V418.3H1940.5ZM1878.53 418.3H1909.52V426.45H1878.53ZM1932.75 418.3H1948.25V426.45H1932.75ZM1894.02 426.45H1909.52V434.59H1894.02ZM1932.75 426.45H1940.5V434.59H1932.75ZM1971.48 426.45H1979.23V434.59H1971.48ZM1986.98 426.45H1994.72V434.59H1986.98ZM1894.02 434.59H1909.52V442.74H1894.02ZM1917.26 434.59H1955.99V442.74H1917.26ZM1963.74 434.59H1994.72V442.74H1963.74ZM1901.77 442.74H1917.26V450.88H1901.77ZM1932.75 442.74H1955.99V450.88H1932.75ZM1963.74 442.74H1994.72V450.88H1963.74ZM1932.75 450.88H1955.99V459.02H1932.75ZM1971.48 450.88H1994.72V459.02H1971.48ZM1948.25 459.02H1955.99V467.17H1948.25ZM1963.74 459.02H1979.23V467.17H1963.74ZM1940.5 467.17H1955.99V475.31H1940.5ZM1940.5 475.31H1948.25V483.46H1940.5ZM1940.5 483.46H1955.99V491.6H1940.5ZM1948.25 491.6H1955.99V499.74H1948.25ZM1963.74 491.6H1994.72V499.74H1963.74ZM1963.74 499.74H1994.72V507.89H1963.74ZM1963.74 507.89H1971.48V516.03H1963.74ZM1979.23 507.89H1994.72V516.03H1979.23Z" fill="#ff1400"/>
<path d="M1560.95 84.4H1568.69V92.54H1560.95ZM1622.91 84.4H1630.66V92.54H1622.91ZM1754.6 84.4H1762.34V92.54H1754.6ZM1568.69 92.54H1591.93V100.69H1568.69ZM1622.91 92.54H1630.66V100.69H1622.91ZM1646.15 92.54H1653.9V100.69H1646.15ZM1793.33 92.54H1801.07V100.69H1793.33ZM1591.93 100.69H1599.68V108.83H1591.93ZM1669.39 100.69H1677.14V108.83H1669.39ZM1723.61 100.69H1739.1V108.83H1723.61ZM1754.6 100.69H1762.34V108.83H1754.6ZM1793.33 100.69H1801.07V108.83H1793.33ZM1886.28 100.69H1894.02V108.83H1886.28ZM1622.91 108.83H1630.66V116.98H1622.91ZM1622.91 116.98H1630.66V125.12H1622.91ZM1653.9 116.98H1661.64V125.12H1653.9ZM1723.61 116.98H1731.36V125.12H1723.61ZM1793.33 116.98H1801.07V125.12H1793.33ZM1863.04 116.98H1870.79V125.12H1863.04ZM1615.17 125.12H1630.66V133.26H1615.17ZM1622.91 149.55H1630.66V157.7H1622.91ZM1661.64 149.55H1669.39V157.7H1661.64ZM1723.61 149.55H1731.36V157.7H1723.61ZM1630.66 157.7H1638.41V165.84H1630.66ZM1646.15 157.7H1653.9V165.84H1646.15ZM1661.64 157.7H1677.14V165.84H1661.64ZM1723.61 157.7H1731.36V165.84H1723.61ZM1793.33 157.7H1801.07V165.84H1793.33ZM1824.31 157.7H1832.06V165.84H1824.31ZM1646.15 173.98H1653.9V182.13H1646.15ZM1700.37 173.98H1708.12V182.13H1700.37ZM1754.6 173.98H1762.34V182.13H1754.6ZM1963.74 198.42H1971.48V206.56H1963.74ZM1746.85 222.85H1754.6V230.99H1746.85ZM1715.87 247.28H1723.61V255.42H1715.87ZM1723.61 255.42H1731.36V263.57H1723.61ZM1785.58 255.42H1793.33V263.57H1785.58ZM1863.04 255.42H1870.79V263.57H1863.04ZM1793.33 263.57H1801.07V271.71H1793.33ZM1963.74 263.57H1971.48V271.71H1963.74ZM1746.85 279.86H1754.6V288H1746.85ZM1816.56 279.86H1832.06V288H1816.56ZM1762.34 296.14H1777.83V304.29H1762.34ZM1832.06 296.14H1839.8V304.29H1832.06ZM1770.09 304.29H1785.58V312.43H1770.09ZM1824.31 304.29H1855.29V312.43H1824.31ZM1894.02 304.29H1932.75V312.43H1894.02ZM1955.99 304.29H1963.74V312.43H1955.99ZM1832.06 312.43H1839.8V320.58H1832.06ZM1839.8 377.58H1855.29V385.73H1839.8ZM1901.77 377.58H1932.75V385.73H1901.77ZM1955.99 377.58H1971.48V385.73H1955.99ZM1925.01 410.16H1932.75V418.3H1925.01ZM1963.74 410.16H1971.48V418.3H1963.74ZM1979.23 410.16H1994.72V418.3H1979.23ZM1955.99 450.88H1963.74V459.02H1955.99ZM1955.99 459.02H1963.74V467.17H1955.99ZM1925.01 467.17H1932.75V475.31H1925.01ZM1932.75 475.31H1940.5V483.46H1932.75ZM1963.74 475.31H1971.48V483.46H1963.74ZM1979.23 475.31H1994.72V483.46H1979.23ZM1955.99 483.46H1971.48V491.6H1955.99ZM1979.23 483.46H1994.72V491.6H1979.23Z" fill="#0020fa"/>
<path d="M1553.2 84.4h3.87v4.07h-3.87ZM1553.2 544.54h3.87v4.07h-3.87ZM1990.85 544.54h3.87v4.07h-3.87Z" fill="#00008f"/>
<g clip-path="url(#clipD)"><path d="M1564.82 84.4V548.61M1572.57 84.4V548.61M1580.31 84.4V548.61M1588.06 84.4V548.61M1595.8 84.4V548.61M1603.55 84.4V548.61M1611.3 84.4V548.61M1619.04 84.4V548.61M1626.79 84.4V548.61M1634.53 84.4V548.61M1642.28 84.4V548.61M1650.03 84.4V548.61M1657.77 84.4V548.61M1665.52 84.4V548.61M1673.26 84.4V548.61M1681.01 84.4V548.61M1688.76 84.4V548.61M1696.5 84.4V548.61M1704.25 84.4V548.61M1711.99 84.4V548.61M1719.74 84.4V548.61M1727.49 84.4V548.61M1735.23 84.4V548.61M1742.98 84.4V548.61M1750.72 84.4V548.61M1758.47 84.4V548.61M1766.22 84.4V548.61M1773.96 84.4V548.61M1781.71 84.4V548.61M1789.45 84.4V548.61M1797.2 84.4V548.61M1804.95 84.4V548.61M1812.69 84.4V548.61M1820.44 84.4V548.61M1828.18 84.4V548.61M1835.93 84.4V548.61M1843.68 84.4V548.61M1851.42 84.4V548.61M1859.17 84.4V548.61M1866.91 84.4V548.61M1874.66 84.4V548.61M1882.41 84.4V548.61M1890.15 84.4V548.61M1897.9 84.4V548.61M1905.64 84.4V548.61M1913.39 84.4V548.61M1921.13 84.4V548.61M1928.88 84.4V548.61M1936.63 84.4V548.61M1944.37 84.4V548.61M1952.12 84.4V548.61M1959.87 84.4V548.61M1967.61 84.4V548.61M1975.36 84.4V548.61M1983.1 84.4V548.61M1990.85 84.4V548.61" class="gv"/><path d="M1553.2 88.47H1994.72M1553.2 96.62H1994.72M1553.2 104.76H1994.72M1553.2 112.9H1994.72M1553.2 121.05H1994.72M1553.2 129.19H1994.72M1553.2 137.34H1994.72M1553.2 145.48H1994.72M1553.2 153.62H1994.72M1553.2 161.77H1994.72M1553.2 169.91H1994.72M1553.2 178.06H1994.72M1553.2 186.2H1994.72M1553.2 194.34H1994.72M1553.2 202.49H1994.72M1553.2 210.63H1994.72M1553.2 218.78H1994.72M1553.2 226.92H1994.72M1553.2 235.06H1994.72M1553.2 243.21H1994.72M1553.2 251.35H1994.72M1553.2 259.5H1994.72M1553.2 267.64H1994.72M1553.2 275.78H1994.72M1553.2 283.93H1994.72M1553.2 292.07H1994.72M1553.2 300.22H1994.72M1553.2 308.36H1994.72M1553.2 316.5H1994.72M1553.2 324.65H1994.72M1553.2 332.79H1994.72M1553.2 340.94H1994.72M1553.2 349.08H1994.72M1553.2 357.22H1994.72M1553.2 365.37H1994.72M1553.2 373.51H1994.72M1553.2 381.66H1994.72M1553.2 389.8H1994.72M1553.2 397.94H1994.72M1553.2 406.09H1994.72M1553.2 414.23H1994.72M1553.2 422.38H1994.72M1553.2 430.52H1994.72M1553.2 438.66H1994.72M1553.2 446.81H1994.72M1553.2 454.95H1994.72M1553.2 463.1H1994.72M1553.2 471.24H1994.72M1553.2 479.38H1994.72M1553.2 487.53H1994.72M1553.2 495.67H1994.72M1553.2 503.82H1994.72M1553.2 511.96H1994.72M1553.2 520.1H1994.72M1553.2 528.25H1994.72M1553.2 536.39H1994.72" class="gh"/></g>
<path d="M1591.93 84.4V125.12H1994.72M1661.64 84.4V198.42H1994.72M1723.61 84.4V263.57H1994.72M1793.33 84.4V336.86H1994.72M1863.04 84.4V410.16H1994.72M1932.75 84.4V483.46H1994.72M1971.48 84.4V524.18H1994.72" class="gb"/>
<path d="M1564.82 84.4v4.4M1564.82 548.61v-4.4M1572.57 84.4v4.4M1572.57 548.61v-4.4M1580.31 84.4v4.4M1580.31 548.61v-4.4M1588.06 84.4v4.4M1588.06 548.61v-4.4M1595.8 84.4v4.4M1595.8 548.61v-4.4M1603.55 84.4v4.4M1603.55 548.61v-4.4M1611.3 84.4v4.4M1611.3 548.61v-4.4M1619.04 84.4v4.4M1619.04 548.61v-4.4M1626.79 84.4v4.4M1626.79 548.61v-4.4M1634.53 84.4v4.4M1634.53 548.61v-4.4M1642.28 84.4v4.4M1642.28 548.61v-4.4M1650.03 84.4v4.4M1650.03 548.61v-4.4M1657.77 84.4v4.4M1657.77 548.61v-4.4M1665.52 84.4v4.4M1665.52 548.61v-4.4M1673.26 84.4v4.4M1673.26 548.61v-4.4M1681.01 84.4v4.4M1681.01 548.61v-4.4M1688.76 84.4v4.4M1688.76 548.61v-4.4M1696.5 84.4v4.4M1696.5 548.61v-4.4M1704.25 84.4v4.4M1704.25 548.61v-4.4M1711.99 84.4v4.4M1711.99 548.61v-4.4M1719.74 84.4v4.4M1719.74 548.61v-4.4M1727.49 84.4v4.4M1727.49 548.61v-4.4M1735.23 84.4v4.4M1735.23 548.61v-4.4M1742.98 84.4v4.4M1742.98 548.61v-4.4M1750.72 84.4v4.4M1750.72 548.61v-4.4M1758.47 84.4v4.4M1758.47 548.61v-4.4M1766.22 84.4v4.4M1766.22 548.61v-4.4M1773.96 84.4v4.4M1773.96 548.61v-4.4M1781.71 84.4v4.4M1781.71 548.61v-4.4M1789.45 84.4v4.4M1789.45 548.61v-4.4M1797.2 84.4v4.4M1797.2 548.61v-4.4M1804.95 84.4v4.4M1804.95 548.61v-4.4M1812.69 84.4v4.4M1812.69 548.61v-4.4M1820.44 84.4v4.4M1820.44 548.61v-4.4M1828.18 84.4v4.4M1828.18 548.61v-4.4M1835.93 84.4v4.4M1835.93 548.61v-4.4M1843.68 84.4v4.4M1843.68 548.61v-4.4M1851.42 84.4v4.4M1851.42 548.61v-4.4M1859.17 84.4v4.4M1859.17 548.61v-4.4M1866.91 84.4v4.4M1866.91 548.61v-4.4M1874.66 84.4v4.4M1874.66 548.61v-4.4M1882.41 84.4v4.4M1882.41 548.61v-4.4M1890.15 84.4v4.4M1890.15 548.61v-4.4M1897.9 84.4v4.4M1897.9 548.61v-4.4M1905.64 84.4v4.4M1905.64 548.61v-4.4M1913.39 84.4v4.4M1913.39 548.61v-4.4M1921.13 84.4v4.4M1921.13 548.61v-4.4M1928.88 84.4v4.4M1928.88 548.61v-4.4M1936.63 84.4v4.4M1936.63 548.61v-4.4M1944.37 84.4v4.4M1944.37 548.61v-4.4M1952.12 84.4v4.4M1952.12 548.61v-4.4M1959.87 84.4v4.4M1959.87 548.61v-4.4M1967.61 84.4v4.4M1967.61 548.61v-4.4M1975.36 84.4v4.4M1975.36 548.61v-4.4M1983.1 84.4v4.4M1983.1 548.61v-4.4M1990.85 84.4v4.4M1990.85 548.61v-4.4M1553.2 88.47h4.4M1994.72 88.47h-4.4M1553.2 96.62h4.4M1994.72 96.62h-4.4M1553.2 104.76h4.4M1994.72 104.76h-4.4M1553.2 112.9h4.4M1994.72 112.9h-4.4M1553.2 121.05h4.4M1994.72 121.05h-4.4M1553.2 129.19h4.4M1994.72 129.19h-4.4M1553.2 137.34h4.4M1994.72 137.34h-4.4M1553.2 145.48h4.4M1994.72 145.48h-4.4M1553.2 153.62h4.4M1994.72 153.62h-4.4M1553.2 161.77h4.4M1994.72 161.77h-4.4M1553.2 169.91h4.4M1994.72 169.91h-4.4M1553.2 178.06h4.4M1994.72 178.06h-4.4M1553.2 186.2h4.4M1994.72 186.2h-4.4M1553.2 194.34h4.4M1994.72 194.34h-4.4M1553.2 202.49h4.4M1994.72 202.49h-4.4M1553.2 210.63h4.4M1994.72 210.63h-4.4M1553.2 218.78h4.4M1994.72 218.78h-4.4M1553.2 226.92h4.4M1994.72 226.92h-4.4M1553.2 235.06h4.4M1994.72 235.06h-4.4M1553.2 243.21h4.4M1994.72 243.21h-4.4M1553.2 251.35h4.4M1994.72 251.35h-4.4M1553.2 259.5h4.4M1994.72 259.5h-4.4M1553.2 267.64h4.4M1994.72 267.64h-4.4M1553.2 275.78h4.4M1994.72 275.78h-4.4M1553.2 283.93h4.4M1994.72 283.93h-4.4M1553.2 292.07h4.4M1994.72 292.07h-4.4M1553.2 300.22h4.4M1994.72 300.22h-4.4M1553.2 308.36h4.4M1994.72 308.36h-4.4M1553.2 316.5h4.4M1994.72 316.5h-4.4M1553.2 324.65h4.4M1994.72 324.65h-4.4M1553.2 332.79h4.4M1994.72 332.79h-4.4M1553.2 340.94h4.4M1994.72 340.94h-4.4M1553.2 349.08h4.4M1994.72 349.08h-4.4M1553.2 357.22h4.4M1994.72 357.22h-4.4M1553.2 365.37h4.4M1994.72 365.37h-4.4M1553.2 373.51h4.4M1994.72 373.51h-4.4M1553.2 381.66h4.4M1994.72 381.66h-4.4M1553.2 389.8h4.4M1994.72 389.8h-4.4M1553.2 397.94h4.4M1994.72 397.94h-4.4M1553.2 406.09h4.4M1994.72 406.09h-4.4M1553.2 414.23h4.4M1994.72 414.23h-4.4M1553.2 422.38h4.4M1994.72 422.38h-4.4M1553.2 430.52h4.4M1994.72 430.52h-4.4M1553.2 438.66h4.4M1994.72 438.66h-4.4M1553.2 446.81h4.4M1994.72 446.81h-4.4M1553.2 454.95h4.4M1994.72 454.95h-4.4M1553.2 463.1h4.4M1994.72 463.1h-4.4M1553.2 471.24h4.4M1994.72 471.24h-4.4M1553.2 479.38h4.4M1994.72 479.38h-4.4M1553.2 487.53h4.4M1994.72 487.53h-4.4M1553.2 495.67h4.4M1994.72 495.67h-4.4M1553.2 503.82h4.4M1994.72 503.82h-4.4M1553.2 511.96h4.4M1994.72 511.96h-4.4M1553.2 520.1h4.4M1994.72 520.1h-4.4M1553.2 528.25h4.4M1994.72 528.25h-4.4M1553.2 536.39h4.4M1994.72 536.39h-4.4M1553.2 544.54h4.4M1994.72 544.54h-4.4" class="tk"/>
<path d="M1591.93 84.4v4.8M1994.72 125.12h-4.8M1661.64 84.4v4.8M1994.72 198.42h-4.8M1723.61 84.4v4.8M1994.72 263.57h-4.8M1793.33 84.4v4.8M1994.72 336.86h-4.8M1863.04 84.4v4.8M1994.72 410.16h-4.8M1932.75 84.4v4.8M1994.72 483.46h-4.8M1971.48 84.4v4.8M1994.72 524.18h-4.8" class="tb"/>
<path d="M1553.2 84.4V548.61H1994.72" class="ax"/>
<path d="M1553.2 84.4H1994.72V548.61" class="ax2"/>
<text class="pl" transform="translate(1559.6 37.7) scale(0.9755 1)">D</text>
<text class="pt" transform="translate(1615.15 35) scale(1.0125 1)">beta-2</text>
<text class="tl" transform="translate(1561.65 77.5) scale(1.0066 1)">AF</text>
<text class="tl" transform="translate(1617.55 77.5) scale(0.9750 1)">F</text>
<text class="tl" transform="translate(1678.96 77.5) scale(1.0186 1)">FC</text>
<text class="tl" transform="translate(1748.4 77.5) scale(1.0044 1)">C</text>
<text class="tl" transform="translate(1818.39 77.5) scale(1.0108 1)">CP</text>
<text class="tl" transform="translate(1887.92 77.5) scale(0.9889 1)">P</text>
<text class="tl" transform="translate(1937.34 77.5) scale(1.0298 1)">PO</text>
<text class="tl" transform="translate(1978.02 77.5) scale(0.9846 1)">O</text>
<text class="rl" transform="translate(1998.97 109.2) scale(1.0196 1)">AF</text>
<text class="rl" transform="translate(1998.39 167.1) scale(0.9667 1)">F</text>
<text class="rl" transform="translate(1998.22 238.8) scale(1.0500 1)">FC</text>
<text class="rl" transform="translate(1997.97 306.2) scale(1.0000 1)">C</text>
<text class="rl" transform="translate(1997.95 377.9) scale(1.0214 1)">CP</text>
<text class="rl" transform="translate(1998.25 452.6) scale(0.9300 1)">P</text>
<text class="rl" transform="translate(1998.28 513.3) scale(1.0226 1)">PO</text>
<text class="rl" transform="translate(1997.41 544) scale(0.9724 1)">O</text>
</g>
<g id="legend">
<rect x="457.8" y="598.7" width="30.2" height="28" fill="#ff1400"/>
<rect x="831.9" y="598.7" width="30.4" height="28" fill="#0020fa"/>
<rect x="1240.4" y="598.7" width="30.3" height="28" fill="#90fd70"/>
<text class="lg" transform="translate(505.09 623) scale(1.0371 1)">Positive difference</text>
<text class="lg" transform="translate(875.29 623) scale(1.0355 1)">Negative difference</text>
<text class="lg" transform="translate(1286.69 623) scale(1.0355 1)">Not signifficant</text>
</g>
</svg>
</body>
</html>
